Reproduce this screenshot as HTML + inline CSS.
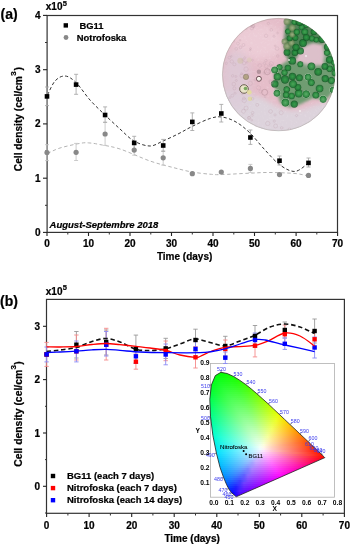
<!DOCTYPE html>
<html><head><meta charset="utf-8"><style>html,body{margin:0;padding:0;background:#fff;width:350px;height:544px;overflow:hidden}svg{display:block;will-change:transform} text:not([fill]){stroke:#000;stroke-width:0.22px}</style></head>
<body><svg width="350" height="544" viewBox="0 0 350 544">
<rect x="47.1" y="15.5" width="290.4" height="216.9" fill="none" stroke="#333" stroke-width="1.2"/>
<line x1="43" y1="232.4" x2="47.1" y2="232.4" stroke="#222" stroke-width="1.1"/>
<text x="40.6" y="235.8" font-family="Liberation Sans" font-weight="bold" font-size="10" text-anchor="end">0</text>
<line x1="43" y1="178.2" x2="47.1" y2="178.2" stroke="#222" stroke-width="1.1"/>
<text x="40.6" y="181.6" font-family="Liberation Sans" font-weight="bold" font-size="10" text-anchor="end">1</text>
<line x1="43" y1="123.9" x2="47.1" y2="123.9" stroke="#222" stroke-width="1.1"/>
<text x="40.6" y="127.3" font-family="Liberation Sans" font-weight="bold" font-size="10" text-anchor="end">2</text>
<line x1="43" y1="69.7" x2="47.1" y2="69.7" stroke="#222" stroke-width="1.1"/>
<text x="40.6" y="73.1" font-family="Liberation Sans" font-weight="bold" font-size="10" text-anchor="end">3</text>
<line x1="43" y1="15.4" x2="47.1" y2="15.4" stroke="#222" stroke-width="1.1"/>
<text x="40.6" y="18.8" font-family="Liberation Sans" font-weight="bold" font-size="10" text-anchor="end">4</text>
<line x1="45" y1="205.3" x2="47.1" y2="205.3" stroke="#333" stroke-width="1"/>
<line x1="45" y1="151.0" x2="47.1" y2="151.0" stroke="#333" stroke-width="1"/>
<line x1="45" y1="96.8" x2="47.1" y2="96.8" stroke="#333" stroke-width="1"/>
<line x1="45" y1="42.5" x2="47.1" y2="42.5" stroke="#333" stroke-width="1"/>
<line x1="47.0" y1="232.4" x2="47.0" y2="236" stroke="#222" stroke-width="1.1"/>
<text x="47.0" y="247.4" font-family="Liberation Sans" font-weight="bold" font-size="10" text-anchor="middle">0</text>
<line x1="88.5" y1="232.4" x2="88.5" y2="236" stroke="#222" stroke-width="1.1"/>
<text x="88.5" y="247.4" font-family="Liberation Sans" font-weight="bold" font-size="10" text-anchor="middle">10</text>
<line x1="130.0" y1="232.4" x2="130.0" y2="236" stroke="#222" stroke-width="1.1"/>
<text x="130.0" y="247.4" font-family="Liberation Sans" font-weight="bold" font-size="10" text-anchor="middle">20</text>
<line x1="171.5" y1="232.4" x2="171.5" y2="236" stroke="#222" stroke-width="1.1"/>
<text x="171.5" y="247.4" font-family="Liberation Sans" font-weight="bold" font-size="10" text-anchor="middle">30</text>
<line x1="213.0" y1="232.4" x2="213.0" y2="236" stroke="#222" stroke-width="1.1"/>
<text x="213.0" y="247.4" font-family="Liberation Sans" font-weight="bold" font-size="10" text-anchor="middle">40</text>
<line x1="254.5" y1="232.4" x2="254.5" y2="236" stroke="#222" stroke-width="1.1"/>
<text x="254.5" y="247.4" font-family="Liberation Sans" font-weight="bold" font-size="10" text-anchor="middle">50</text>
<line x1="296.1" y1="232.4" x2="296.1" y2="236" stroke="#222" stroke-width="1.1"/>
<text x="296.1" y="247.4" font-family="Liberation Sans" font-weight="bold" font-size="10" text-anchor="middle">60</text>
<line x1="337.6" y1="232.4" x2="337.6" y2="236" stroke="#222" stroke-width="1.1"/>
<text x="337.6" y="247.4" font-family="Liberation Sans" font-weight="bold" font-size="10" text-anchor="middle">70</text>
<line x1="67.8" y1="232.4" x2="67.8" y2="234.5" stroke="#333" stroke-width="1"/>
<line x1="109.3" y1="232.4" x2="109.3" y2="234.5" stroke="#333" stroke-width="1"/>
<line x1="150.8" y1="232.4" x2="150.8" y2="234.5" stroke="#333" stroke-width="1"/>
<line x1="192.3" y1="232.4" x2="192.3" y2="234.5" stroke="#333" stroke-width="1"/>
<line x1="233.8" y1="232.4" x2="233.8" y2="234.5" stroke="#333" stroke-width="1"/>
<line x1="275.3" y1="232.4" x2="275.3" y2="234.5" stroke="#333" stroke-width="1"/>
<line x1="316.8" y1="232.4" x2="316.8" y2="234.5" stroke="#333" stroke-width="1"/>
<text x="0.5" y="19" font-family="Liberation Sans" font-weight="bold" font-size="14">(a)</text>
<text x="45.8" y="10.2" font-family="Liberation Sans" font-weight="bold" font-size="10">x10<tspan font-size="7.5" dx="0.3" dy="-4.6">5</tspan></text>
<text x="156.9" y="259.9" font-family="Liberation Sans" font-weight="bold" font-size="10">Time (days)</text>
<text transform="translate(22.3,171.2) rotate(-90)" font-family="Liberation Sans" font-weight="bold" font-size="10.2">Cell density (cel/cm<tspan font-size="8" dx="0.3" dy="-6.3">3</tspan><tspan dx="0.8" dy="6.3">)</tspan></text>
<text x="49.6" y="227.8" font-family="Liberation Sans" font-weight="bold" font-style="italic" font-size="9.5">August-Septembre 2018</text>
<rect x="63.6" y="23.2" width="4.4" height="4.4" fill="#000"/>
<text x="79.5" y="29.1" font-family="Liberation Sans" font-weight="bold" font-size="9.4">BG11</text>
<circle cx="66" cy="37.5" r="2.4" fill="#888"/>
<text x="76.8" y="40.8" font-family="Liberation Sans" font-weight="bold" font-size="9.4">Notrofoska</text>
<defs><clipPath id="mc"><circle cx="278.7" cy="74.6" r="56.5"/></clipPath>
<filter id="bl4" x="-30%" y="-30%" width="160%" height="160%"><feGaussianBlur stdDeviation="4"/></filter>
<filter id="bl3" x="-30%" y="-30%" width="160%" height="160%"><feGaussianBlur stdDeviation="2.5"/></filter>
<filter id="bl2" x="-30%" y="-30%" width="160%" height="160%"><feGaussianBlur stdDeviation="1.4"/></filter>
<filter id="bl05" x="-50%" y="-50%" width="200%" height="200%"><feGaussianBlur stdDeviation="0.55"/></filter>
<radialGradient id="cg"><stop offset="0" stop-color="#45a855"/><stop offset="0.6" stop-color="#23893a"/><stop offset="0.85" stop-color="#1a642b"/><stop offset="1" stop-color="#2a6034" stop-opacity="0.5"/></radialGradient>
<radialGradient id="cd"><stop offset="0" stop-color="#2d9c42"/><stop offset="0.7" stop-color="#1c7a33"/><stop offset="1" stop-color="#145222"/></radialGradient>
<radialGradient id="cr"><stop offset="0" stop-color="#5aae68"/><stop offset="0.55" stop-color="#2f9444"/><stop offset="0.82" stop-color="#1f6e33"/><stop offset="1" stop-color="#b0ccae"/></radialGradient>
<radialGradient id="co"><stop offset="0" stop-color="#a9b58a"/><stop offset="0.6" stop-color="#7f9866"/><stop offset="1" stop-color="#5d7a4c" stop-opacity="0.7"/></radialGradient>
<filter id="tex" x="0" y="0" width="100%" height="100%"><feTurbulence type="fractalNoise" baseFrequency="0.45" numOctaves="2" seed="5"/><feColorMatrix type="matrix" values="0 0 0 0 1  0 0 0 0 0.95  0 0 0 0 0.97  1.2 0 0 0 -0.62"/></filter>
</defs>
<g clip-path="url(#mc)">
<rect x="222.2" y="18.1" width="113.0" height="113.0" fill="#e5bdc9"/>
<ellipse cx="258" cy="42" rx="26" ry="18" fill="#ecccd6" filter="url(#bl4)"/>
<path d="M212,88 C230,92 250,92 266,100 C278,108 292,114 306,108 C318,103 330,100 342,104 L342,140 L212,140 Z" fill="#ddd3dc" filter="url(#bl3)"/>
<rect x="222.2" y="18.1" width="113.0" height="113.0" filter="url(#tex)" opacity="0.35"/>
<path d="M286.3,19.5 L305.7,17.6 L319.4,24.4 L326.1,36.9 L322.9,44.7 L312.6,43.6 L302.3,49.3 L296.6,58.4 L289.7,63.0 L285.1,53.9 L284.0,40.1 L285.1,28.7Z" fill="#4f8456" filter="url(#bl2)"/>
<path d="M322.9,44.7 L329.6,40.4 L335.1,53.9 L336.4,74.4 L326.3,74.4 L321.7,56.1Z" fill="#5f9a66" filter="url(#bl2)"/>
<path d="M273.7,69.9 L287.4,60.7 L305.7,62.7 L324.0,65.3 L336.4,69.9 L334.3,90.4 L326.3,99.6 L312.6,98.3 L298.9,105.1 L289.7,107.4 L280.6,102.9 L274.9,88.1Z" fill="#6f9c72" filter="url(#bl2)"/>
<ellipse cx="312" cy="55" rx="13.5" ry="10.5" fill="#dcc0ca" filter="url(#bl3)"/>
<circle cx="303.0" cy="43.0" r="3.9" fill="url(#cd)" opacity="0.85" filter="url(#bl05)"/>
<circle cx="288.0" cy="31.4" r="3.1" fill="url(#cg)" opacity="0.85" filter="url(#bl05)"/>
<circle cx="284.6" cy="41.6" r="3.1" fill="url(#co)" opacity="0.85" filter="url(#bl05)"/>
<circle cx="311.9" cy="38.4" r="3.3" fill="url(#cg)" opacity="0.85" filter="url(#bl05)"/>
<circle cx="313.8" cy="31.9" r="3.2" fill="url(#cd)" opacity="0.85" filter="url(#bl05)"/>
<circle cx="287.0" cy="52.4" r="3.4" fill="url(#cd)" opacity="0.85" filter="url(#bl05)"/>
<circle cx="322.3" cy="38.9" r="4.0" fill="url(#cd)" opacity="0.85" filter="url(#bl05)"/>
<circle cx="287.1" cy="46.2" r="3.8" fill="url(#co)" opacity="0.85" filter="url(#bl05)"/>
<circle cx="294.4" cy="22.2" r="3.1" fill="url(#cg)" opacity="0.85" filter="url(#bl05)"/>
<circle cx="291.5" cy="43.0" r="3.4" fill="url(#co)" opacity="0.85" filter="url(#bl05)"/>
<circle cx="301.7" cy="27.3" r="3.3" fill="url(#cg)" opacity="0.85" filter="url(#bl05)"/>
<circle cx="294.9" cy="52.7" r="3.3" fill="url(#cd)" opacity="0.85" filter="url(#bl05)"/>
<circle cx="287.1" cy="21.7" r="3.6" fill="url(#co)" opacity="0.85" filter="url(#bl05)"/>
<circle cx="292.3" cy="60.7" r="3.9" fill="url(#cd)" opacity="0.85" filter="url(#bl05)"/>
<circle cx="295.3" cy="37.8" r="3.1" fill="url(#cd)" opacity="0.85" filter="url(#bl05)"/>
<circle cx="300.4" cy="51.0" r="3.6" fill="url(#cd)" opacity="0.85" filter="url(#bl05)"/>
<circle cx="304.8" cy="31.9" r="3.8" fill="url(#cg)" opacity="0.85" filter="url(#bl05)"/>
<circle cx="289.7" cy="38.2" r="3.0" fill="url(#cd)" opacity="0.85" filter="url(#bl05)"/>
<circle cx="316.3" cy="39.7" r="3.0" fill="url(#cg)" opacity="0.85" filter="url(#bl05)"/>
<circle cx="292.2" cy="27.9" r="3.7" fill="url(#co)" opacity="0.85" filter="url(#bl05)"/>
<circle cx="306.3" cy="37.4" r="3.4" fill="url(#cd)" opacity="0.85" filter="url(#bl05)"/>
<circle cx="306.3" cy="24.9" r="3.2" fill="url(#cg)" opacity="0.85" filter="url(#bl05)"/>
<circle cx="292.2" cy="34.7" r="3.1" fill="url(#co)" opacity="0.85" filter="url(#bl05)"/>
<circle cx="296.0" cy="47.3" r="3.6" fill="url(#cd)" opacity="0.85" filter="url(#bl05)"/>
<circle cx="299.5" cy="22.0" r="3.9" fill="url(#cd)" opacity="0.85" filter="url(#bl05)"/>
<circle cx="296.8" cy="32.0" r="3.4" fill="url(#cg)" opacity="0.85" filter="url(#bl05)"/>
<circle cx="327.0" cy="52.8" r="3.3" fill="url(#cg)" opacity="0.85" filter="url(#bl05)"/>
<circle cx="327.4" cy="47.0" r="3.5" fill="url(#cd)" opacity="0.85" filter="url(#bl05)"/>
<circle cx="329.6" cy="68.8" r="3.5" fill="url(#cg)" opacity="0.85" filter="url(#bl05)"/>
<circle cx="329.7" cy="59.7" r="3.8" fill="url(#cd)" opacity="0.85" filter="url(#bl05)"/>
<circle cx="324.9" cy="66.4" r="3.4" fill="url(#cd)" opacity="0.85" filter="url(#bl05)"/>
<circle cx="334.8" cy="73.0" r="3.5" fill="url(#cg)" opacity="0.85" filter="url(#bl05)"/>
<circle cx="335.6" cy="67.6" r="3.3" fill="url(#cg)" opacity="0.85" filter="url(#bl05)"/>
<circle cx="333.9" cy="62.6" r="3.0" fill="url(#cg)" opacity="0.85" filter="url(#bl05)"/>
<circle cx="318.2" cy="71.8" r="3.9" fill="url(#cd)" opacity="0.85" filter="url(#bl05)"/>
<circle cx="286.7" cy="89.5" r="3.5" fill="url(#cg)" opacity="0.85" filter="url(#bl05)"/>
<circle cx="292.4" cy="76.5" r="3.7" fill="url(#cd)" opacity="0.85" filter="url(#bl05)"/>
<circle cx="286.2" cy="94.9" r="3.6" fill="url(#cg)" opacity="0.85" filter="url(#bl05)"/>
<circle cx="279.5" cy="67.3" r="3.3" fill="url(#cg)" opacity="0.85" filter="url(#bl05)"/>
<circle cx="285.0" cy="79.5" r="4.2" fill="url(#cd)" opacity="0.85" filter="url(#bl05)"/>
<circle cx="287.9" cy="68.0" r="3.3" fill="url(#cd)" opacity="0.85" filter="url(#bl05)"/>
<circle cx="331.4" cy="80.6" r="3.8" fill="url(#cg)" opacity="0.85" filter="url(#bl05)"/>
<circle cx="325.2" cy="78.7" r="3.6" fill="url(#cd)" opacity="0.85" filter="url(#bl05)"/>
<circle cx="298.8" cy="93.4" r="4.4" fill="url(#cg)" opacity="0.85" filter="url(#bl05)"/>
<circle cx="323.1" cy="99.2" r="3.9" fill="url(#cr)" opacity="0.85" filter="url(#bl05)"/>
<circle cx="308.1" cy="77.2" r="3.8" fill="url(#cr)" opacity="0.85" filter="url(#bl05)"/>
<circle cx="306.1" cy="94.1" r="4.2" fill="url(#cr)" opacity="0.85" filter="url(#bl05)"/>
<circle cx="332.9" cy="90.0" r="3.4" fill="url(#cr)" opacity="0.85" filter="url(#bl05)"/>
<circle cx="294.3" cy="104.1" r="3.6" fill="url(#cd)" opacity="0.85" filter="url(#bl05)"/>
<circle cx="311.4" cy="66.4" r="4.2" fill="url(#cg)" opacity="0.85" filter="url(#bl05)"/>
<circle cx="315.8" cy="95.1" r="3.7" fill="url(#cg)" opacity="0.85" filter="url(#bl05)"/>
<circle cx="274.7" cy="70.0" r="3.8" fill="url(#cr)" opacity="0.85" filter="url(#bl05)"/>
<circle cx="297.9" cy="87.3" r="3.4" fill="url(#cd)" opacity="0.85" filter="url(#bl05)"/>
<circle cx="311.3" cy="82.6" r="3.7" fill="url(#cg)" opacity="0.85" filter="url(#bl05)"/>
<circle cx="319.6" cy="88.6" r="4.1" fill="url(#cg)" opacity="0.85" filter="url(#bl05)"/>
<circle cx="277.0" cy="93.2" r="3.8" fill="url(#cr)" opacity="0.85" filter="url(#bl05)"/>
<circle cx="293.0" cy="84.0" r="4.3" fill="url(#cg)" opacity="0.85" filter="url(#bl05)"/>
<circle cx="291.6" cy="96.0" r="3.5" fill="url(#cg)" opacity="0.85" filter="url(#bl05)"/>
<circle cx="285.4" cy="102.6" r="4.4" fill="url(#cr)" opacity="0.85" filter="url(#bl05)"/>
<circle cx="274.8" cy="83.9" r="3.7" fill="url(#cd)" opacity="0.85" filter="url(#bl05)"/>
<circle cx="284.5" cy="72.6" r="3.4" fill="url(#cg)" opacity="0.85" filter="url(#bl05)"/>
<circle cx="299.4" cy="77.7" r="3.5" fill="url(#cd)" opacity="0.85" filter="url(#bl05)"/>
<circle cx="300.3" cy="64.3" r="3.2" fill="url(#cg)" opacity="0.85" filter="url(#bl05)"/>
<circle cx="277.4" cy="76.7" r="4.0" fill="url(#cg)" opacity="0.85" filter="url(#bl05)"/>
<circle cx="300" cy="111" r="1.1" fill="#f4f0f0" opacity="0.8" filter="url(#bl05)"/>
<circle cx="289" cy="60" r="1.1" fill="#f4f0f0" opacity="0.8" filter="url(#bl05)"/>
<circle cx="306" cy="56" r="1.1" fill="#f4f0f0" opacity="0.8" filter="url(#bl05)"/>
<ellipse cx="236" cy="80" rx="14" ry="30" fill="#dccbd8" opacity="0.8" filter="url(#bl4)"/>
<circle cx="246" cy="76.9" r="2.7" fill="#b2a383" stroke="#8a7a68" stroke-width="0.6" filter="url(#bl05)"/>
<circle cx="258.9" cy="78.8" r="2.5" fill="#f6f2ea" stroke="#6a4a52" stroke-width="1" filter="url(#bl05)"/>
<circle cx="258.9" cy="71.7" r="2.2" fill="#b4949e" filter="url(#bl05)"/>
<circle cx="244" cy="89" r="4.3" fill="#e8e4c8" stroke="#6a6050" stroke-width="1" filter="url(#bl05)"/>
<circle cx="245.5" cy="88.5" r="1.8" fill="#7aa860" filter="url(#bl05)"/>
<circle cx="249.3" cy="92.3" r="2.4" fill="#e4dca0" filter="url(#bl05)"/>
<circle cx="250" cy="98.7" r="2.3" fill="#e0d8a8" filter="url(#bl05)"/>
<circle cx="240.3" cy="60.8" r="3" fill="#d4c4b0" opacity="0.7" filter="url(#bl05)"/>
<circle cx="249.3" cy="60" r="2.5" fill="#dccab8" opacity="0.6" filter="url(#bl05)"/>
<circle cx="267.3" cy="71.7" r="3" fill="none" stroke="#b8949e" stroke-width="0.6"/>
<circle cx="264.7" cy="92.3" r="3" fill="none" stroke="#b8949e" stroke-width="0.6"/>
<circle cx="252.6" cy="112.7" r="1.3" fill="none" stroke="#c2a2ae" stroke-width="0.45" opacity="0.55"/>
<circle cx="282.9" cy="43.7" r="1.3" fill="none" stroke="#c2a2ae" stroke-width="0.45" opacity="0.55"/>
<circle cx="236.3" cy="80.5" r="1.0" fill="none" stroke="#c2a2ae" stroke-width="0.45" opacity="0.55"/>
<circle cx="237.9" cy="43.6" r="1.5" fill="none" stroke="#c2a2ae" stroke-width="0.45" opacity="0.55"/>
<circle cx="246.1" cy="69.2" r="2.2" fill="none" stroke="#c2a2ae" stroke-width="0.45" opacity="0.55"/>
<circle cx="275.0" cy="114.9" r="1.1" fill="none" stroke="#c2a2ae" stroke-width="0.45" opacity="0.55"/>
<circle cx="251.9" cy="28.0" r="1.8" fill="none" stroke="#c2a2ae" stroke-width="0.45" opacity="0.55"/>
<circle cx="250.3" cy="50.2" r="0.8" fill="none" stroke="#c2a2ae" stroke-width="0.45" opacity="0.55"/>
<circle cx="236.2" cy="48.9" r="1.4" fill="none" stroke="#c2a2ae" stroke-width="0.45" opacity="0.55"/>
<circle cx="243.0" cy="59.7" r="1.0" fill="none" stroke="#c2a2ae" stroke-width="0.45" opacity="0.55"/>
<circle cx="247.1" cy="62.3" r="0.9" fill="none" stroke="#c2a2ae" stroke-width="0.45" opacity="0.55"/>
<circle cx="226.3" cy="63.3" r="1.1" fill="none" stroke="#c2a2ae" stroke-width="0.45" opacity="0.55"/>
<circle cx="268.4" cy="23.5" r="1.2" fill="none" stroke="#c2a2ae" stroke-width="0.45" opacity="0.55"/>
<circle cx="255.1" cy="79.8" r="1.0" fill="none" stroke="#c2a2ae" stroke-width="0.45" opacity="0.55"/>
<circle cx="277.1" cy="48.6" r="1.8" fill="none" stroke="#c2a2ae" stroke-width="0.45" opacity="0.55"/>
<circle cx="274.0" cy="36.2" r="1.1" fill="none" stroke="#c2a2ae" stroke-width="0.45" opacity="0.55"/>
<circle cx="243.9" cy="98.4" r="1.4" fill="none" stroke="#c2a2ae" stroke-width="0.45" opacity="0.55"/>
<circle cx="252.1" cy="115.3" r="1.1" fill="none" stroke="#c2a2ae" stroke-width="0.45" opacity="0.55"/>
<circle cx="244.8" cy="57.9" r="1.1" fill="none" stroke="#c2a2ae" stroke-width="0.45" opacity="0.55"/>
<circle cx="271.2" cy="82.3" r="1.9" fill="none" stroke="#c2a2ae" stroke-width="0.45" opacity="0.55"/>
<circle cx="274.3" cy="121.1" r="1.1" fill="none" stroke="#c2a2ae" stroke-width="0.45" opacity="0.55"/>
<circle cx="296.5" cy="115.5" r="1.1" fill="none" stroke="#c2a2ae" stroke-width="0.45" opacity="0.55"/>
<circle cx="271.3" cy="29.9" r="1.4" fill="none" stroke="#c2a2ae" stroke-width="0.45" opacity="0.55"/>
<circle cx="252.6" cy="26.6" r="1.3" fill="none" stroke="#c2a2ae" stroke-width="0.45" opacity="0.55"/>
<circle cx="247.6" cy="74.7" r="1.2" fill="none" stroke="#c2a2ae" stroke-width="0.45" opacity="0.55"/>
<circle cx="234.4" cy="64.3" r="1.5" fill="none" stroke="#c2a2ae" stroke-width="0.45" opacity="0.55"/>
<circle cx="235.0" cy="93.2" r="1.1" fill="none" stroke="#c2a2ae" stroke-width="0.45" opacity="0.55"/>
<circle cx="229.3" cy="57.6" r="1.4" fill="none" stroke="#c2a2ae" stroke-width="0.45" opacity="0.55"/>
<circle cx="233.8" cy="84.1" r="1.8" fill="none" stroke="#c2a2ae" stroke-width="0.45" opacity="0.55"/>
<circle cx="265.1" cy="97.0" r="0.8" fill="none" stroke="#c2a2ae" stroke-width="0.45" opacity="0.55"/>
<circle cx="252.5" cy="60.1" r="0.9" fill="none" stroke="#c2a2ae" stroke-width="0.45" opacity="0.55"/>
<circle cx="253.5" cy="26.0" r="1.5" fill="none" stroke="#c2a2ae" stroke-width="0.45" opacity="0.55"/>
<circle cx="267.7" cy="71.6" r="1.3" fill="none" stroke="#c2a2ae" stroke-width="0.45" opacity="0.55"/>
<circle cx="249.1" cy="118.1" r="1.6" fill="none" stroke="#c2a2ae" stroke-width="0.45" opacity="0.55"/>
<circle cx="242.4" cy="93.5" r="1.1" fill="none" stroke="#c2a2ae" stroke-width="0.45" opacity="0.55"/>
<circle cx="258.6" cy="87.7" r="2.1" fill="none" stroke="#c2a2ae" stroke-width="0.45" opacity="0.55"/>
<circle cx="250.3" cy="83.4" r="2.1" fill="none" stroke="#c2a2ae" stroke-width="0.45" opacity="0.55"/>
<circle cx="270.4" cy="65.2" r="1.4" fill="none" stroke="#c2a2ae" stroke-width="0.45" opacity="0.55"/>
<circle cx="243.5" cy="111.3" r="2.0" fill="none" stroke="#c2a2ae" stroke-width="0.45" opacity="0.55"/>
<circle cx="251.8" cy="120.1" r="0.9" fill="none" stroke="#c2a2ae" stroke-width="0.45" opacity="0.55"/>
<circle cx="232.6" cy="75.8" r="1.2" fill="none" stroke="#c2a2ae" stroke-width="0.45" opacity="0.55"/>
<circle cx="233.7" cy="41.2" r="1.1" fill="none" stroke="#c2a2ae" stroke-width="0.45" opacity="0.55"/>
<circle cx="275.1" cy="45.8" r="0.8" fill="none" stroke="#c2a2ae" stroke-width="0.45" opacity="0.55"/>
<circle cx="264.4" cy="63.3" r="1.1" fill="none" stroke="#c2a2ae" stroke-width="0.45" opacity="0.55"/>
<circle cx="260.5" cy="91.5" r="1.6" fill="none" stroke="#c2a2ae" stroke-width="0.45" opacity="0.55"/>
<circle cx="270.7" cy="81.7" r="2.0" fill="none" stroke="#c2a2ae" stroke-width="0.45" opacity="0.55"/>
<circle cx="249.0" cy="117.5" r="1.2" fill="none" stroke="#c2a2ae" stroke-width="0.45" opacity="0.55"/>
<circle cx="275.6" cy="126.0" r="2.0" fill="none" stroke="#c2a2ae" stroke-width="0.45" opacity="0.55"/>
<circle cx="234.4" cy="88.4" r="1.5" fill="none" stroke="#c2a2ae" stroke-width="0.45" opacity="0.55"/>
<circle cx="266.0" cy="60.6" r="1.2" fill="none" stroke="#c2a2ae" stroke-width="0.45" opacity="0.55"/>
<circle cx="240.5" cy="47.4" r="1.3" fill="none" stroke="#c2a2ae" stroke-width="0.45" opacity="0.55"/>
<circle cx="235.9" cy="76.5" r="1.0" fill="none" stroke="#c2a2ae" stroke-width="0.45" opacity="0.55"/>
<circle cx="230.0" cy="97.5" r="1.0" fill="none" stroke="#c2a2ae" stroke-width="0.45" opacity="0.55"/>
<circle cx="257.2" cy="104.9" r="1.5" fill="none" stroke="#c2a2ae" stroke-width="0.45" opacity="0.55"/>
<circle cx="241.8" cy="75.8" r="1.9" fill="none" stroke="#c2a2ae" stroke-width="0.45" opacity="0.55"/>
<circle cx="252.6" cy="98.8" r="1.2" fill="none" stroke="#c2a2ae" stroke-width="0.45" opacity="0.55"/>
<circle cx="277.8" cy="56.0" r="1.3" fill="none" stroke="#c2a2ae" stroke-width="0.45" opacity="0.55"/>
<circle cx="281.2" cy="112.7" r="2.0" fill="none" stroke="#c2a2ae" stroke-width="0.45" opacity="0.55"/>
<circle cx="266.3" cy="66.3" r="1.8" fill="none" stroke="#c2a2ae" stroke-width="0.45" opacity="0.55"/>
<circle cx="270.6" cy="111.4" r="1.9" fill="none" stroke="#c2a2ae" stroke-width="0.45" opacity="0.55"/>
<circle cx="231.8" cy="61.5" r="1.7" fill="none" stroke="#c2a2ae" stroke-width="0.45" opacity="0.55"/>
<circle cx="240.0" cy="40.3" r="0.8" fill="none" stroke="#c2a2ae" stroke-width="0.45" opacity="0.55"/>
<circle cx="267.7" cy="123.5" r="2.2" fill="none" stroke="#c2a2ae" stroke-width="0.45" opacity="0.55"/>
<circle cx="232.4" cy="95.6" r="1.4" fill="none" stroke="#c2a2ae" stroke-width="0.45" opacity="0.55"/>
<circle cx="271.3" cy="63.6" r="2.1" fill="none" stroke="#c2a2ae" stroke-width="0.45" opacity="0.55"/>
<circle cx="277.6" cy="33.0" r="0.9" fill="none" stroke="#c2a2ae" stroke-width="0.45" opacity="0.55"/>
<circle cx="244.3" cy="100.4" r="2.2" fill="none" stroke="#c2a2ae" stroke-width="0.45" opacity="0.55"/>
<circle cx="231.4" cy="56.3" r="0.8" fill="none" stroke="#c2a2ae" stroke-width="0.45" opacity="0.55"/>
<circle cx="264.3" cy="73.1" r="1.3" fill="none" stroke="#c2a2ae" stroke-width="0.45" opacity="0.55"/>
<circle cx="246.1" cy="108.1" r="2.0" fill="none" stroke="#c2a2ae" stroke-width="0.45" opacity="0.55"/>
<circle cx="244.1" cy="63.1" r="1.7" fill="none" stroke="#c2a2ae" stroke-width="0.45" opacity="0.55"/>
<circle cx="281.7" cy="127.9" r="1.3" fill="none" stroke="#c2a2ae" stroke-width="0.45" opacity="0.55"/>
<circle cx="284.4" cy="36.2" r="1.0" fill="none" stroke="#c2a2ae" stroke-width="0.45" opacity="0.55"/>
<circle cx="241.6" cy="73.7" r="1.0" fill="none" stroke="#c2a2ae" stroke-width="0.45" opacity="0.55"/>
<circle cx="266.1" cy="35.8" r="1.7" fill="none" stroke="#c2a2ae" stroke-width="0.45" opacity="0.55"/>
<circle cx="243.4" cy="45.0" r="1.5" fill="none" stroke="#c2a2ae" stroke-width="0.45" opacity="0.55"/>
<circle cx="250.5" cy="48.6" r="0.9" fill="none" stroke="#c2a2ae" stroke-width="0.45" opacity="0.55"/>
<circle cx="246.1" cy="28.6" r="1.1" fill="none" stroke="#c2a2ae" stroke-width="0.45" opacity="0.55"/>
<circle cx="259.8" cy="65.6" r="1.9" fill="none" stroke="#c2a2ae" stroke-width="0.45" opacity="0.55"/>
<circle cx="252.9" cy="26.3" r="1.6" fill="none" stroke="#c2a2ae" stroke-width="0.45" opacity="0.55"/>
<circle cx="289.4" cy="129.4" r="1.4" fill="none" stroke="#c2a2ae" stroke-width="0.45" opacity="0.55"/>
</g>
<circle cx="278.7" cy="74.6" r="56.3" fill="none" stroke="#3a5a3a" stroke-width="0.5" opacity="0.35"/>
<path d="M47.5,95.0 C48.8,92.7 52.1,84.2 55.0,81.0 C57.9,77.8 61.5,75.8 65.0,76.0 C68.5,76.2 71.8,78.5 76.0,82.5 C80.2,86.5 85.2,94.6 90.0,100.0 C94.8,105.4 100.0,110.2 105.0,115.0 C110.0,119.8 115.2,124.7 120.0,129.0 C124.8,133.3 129.0,138.2 134.0,141.0 C139.0,143.8 145.2,146.0 150.0,146.0 C154.8,146.0 158.3,143.0 163.0,141.0 C167.7,139.0 173.2,136.4 178.0,134.0 C182.8,131.6 186.7,129.1 192.0,126.5 C197.3,123.9 205.0,120.1 210.0,118.5 C215.0,116.9 217.7,116.4 222.0,117.0 C226.3,117.6 231.3,119.3 236.0,122.0 C240.7,124.7 245.2,128.3 250.0,133.0 C254.8,137.7 260.0,144.7 265.0,150.0 C270.0,155.3 275.0,161.4 280.0,165.0 C285.0,168.6 290.2,171.7 295.0,171.4 C299.8,171.1 306.2,164.4 308.5,163.0" fill="none" stroke="#333" stroke-width="1" stroke-dasharray="3.2 2.3"/>
<path d="M47.5,153.5 C49.6,152.6 54.4,149.7 60.0,148.0 C65.6,146.3 76.0,144.0 81.0,143.2 C86.0,142.4 86.8,142.8 90.0,143.0 C93.2,143.2 95.0,143.6 100.0,144.6 C105.0,145.6 111.7,146.3 120.0,149.0 C128.3,151.7 140.8,157.8 150.0,161.0 C159.2,164.2 168.0,166.2 175.0,168.0 C182.0,169.8 186.2,171.0 192.0,172.0 C197.8,173.0 205.2,173.8 210.0,174.2 C214.8,174.6 214.3,174.8 221.0,174.6 C227.7,174.4 241.8,173.5 250.0,173.2 C258.2,172.8 262.5,172.4 270.0,172.5 C277.5,172.6 288.6,172.9 295.0,173.5 C301.4,174.1 306.2,175.6 308.5,176.0" fill="none" stroke="#b4b4b4" stroke-width="1" stroke-dasharray="3.5 2.5"/>
<path d="M47.0,144.7V160.6M45.0,144.7h4M45.0,160.6h4" stroke="#c6c6c6" stroke-width="0.9" fill="none"/>
<path d="M76.1,143.4V160.5M74.1,143.4h4M74.1,160.5h4" stroke="#c6c6c6" stroke-width="0.9" fill="none"/>
<path d="M105.1,122.3V145.4M103.1,122.3h4M103.1,145.4h4" stroke="#c6c6c6" stroke-width="0.9" fill="none"/>
<path d="M134.2,145.0V155.2M132.2,145.0h4M132.2,155.2h4" stroke="#c6c6c6" stroke-width="0.9" fill="none"/>
<path d="M163.2,150.9V165.1M161.2,150.9h4M161.2,165.1h4" stroke="#c6c6c6" stroke-width="0.9" fill="none"/>
<path d="M250.4,164.4V172.4M248.4,164.4h4M248.4,172.4h4" stroke="#c6c6c6" stroke-width="0.9" fill="none"/>
<path d="M47.0,87.0V105.6M45.0,87.0h4M45.0,105.6h4" stroke="#aaa" stroke-width="0.9" fill="none"/>
<path d="M76.1,74.3V94.3M74.1,74.3h4M74.1,94.3h4" stroke="#aaa" stroke-width="0.9" fill="none"/>
<path d="M105.1,106.9V122.3M103.1,106.9h4M103.1,122.3h4" stroke="#aaa" stroke-width="0.9" fill="none"/>
<path d="M134.2,136.3V149.5M132.2,136.3h4M132.2,149.5h4" stroke="#aaa" stroke-width="0.9" fill="none"/>
<path d="M163.2,139.4V151.4M161.2,139.4h4M161.2,151.4h4" stroke="#aaa" stroke-width="0.9" fill="none"/>
<path d="M192.3,112.9V130.5M190.3,112.9h4M190.3,130.5h4" stroke="#aaa" stroke-width="0.9" fill="none"/>
<path d="M221.3,104.4V122.0M219.3,104.4h4M219.3,122.0h4" stroke="#aaa" stroke-width="0.9" fill="none"/>
<path d="M250.4,130.0V144.4M248.4,130.0h4M248.4,144.4h4" stroke="#aaa" stroke-width="0.9" fill="none"/>
<path d="M279.5,156.0V165.0M277.5,156.0h4M277.5,165.0h4" stroke="#aaa" stroke-width="0.9" fill="none"/>
<path d="M308.5,158.0V167.0M306.5,158.0h4M306.5,167.0h4" stroke="#aaa" stroke-width="0.9" fill="none"/>
<circle cx="47.0" cy="152.5" r="2.6" fill="#888"/>
<circle cx="76.1" cy="152.3" r="2.6" fill="#888"/>
<circle cx="105.1" cy="134.0" r="2.6" fill="#888"/>
<circle cx="134.2" cy="150.1" r="2.6" fill="#888"/>
<circle cx="163.2" cy="157.8" r="2.6" fill="#888"/>
<circle cx="192.3" cy="173.7" r="2.6" fill="#888"/>
<circle cx="221.3" cy="172.0" r="2.6" fill="#888"/>
<circle cx="250.4" cy="168.4" r="2.6" fill="#888"/>
<circle cx="279.5" cy="174.6" r="2.6" fill="#888"/>
<circle cx="308.5" cy="175.4" r="2.6" fill="#888"/>
<rect x="44.7" y="94.1" width="4.6" height="4.6" fill="#000"/>
<rect x="73.8" y="82.3" width="4.6" height="4.6" fill="#000"/>
<rect x="102.8" y="112.7" width="4.6" height="4.6" fill="#000"/>
<rect x="131.9" y="140.6" width="4.6" height="4.6" fill="#000"/>
<rect x="160.9" y="143.2" width="4.6" height="4.6" fill="#000"/>
<rect x="190.0" y="119.6" width="4.6" height="4.6" fill="#000"/>
<rect x="219.0" y="111.2" width="4.6" height="4.6" fill="#000"/>
<rect x="248.1" y="135.2" width="4.6" height="4.6" fill="#000"/>
<rect x="277.2" y="158.4" width="4.6" height="4.6" fill="#000"/>
<rect x="306.2" y="160.6" width="4.6" height="4.6" fill="#000"/>
<rect x="46.5" y="299.4" width="297.9" height="213.9" fill="none" stroke="#333" stroke-width="1.2"/>
<line x1="43" y1="486.3" x2="46.5" y2="486.3" stroke="#222" stroke-width="1.1"/>
<text x="40" y="490.0" font-family="Liberation Sans" font-weight="bold" font-size="10" text-anchor="end">0</text>
<line x1="43" y1="433.0" x2="46.5" y2="433.0" stroke="#222" stroke-width="1.1"/>
<text x="40" y="436.7" font-family="Liberation Sans" font-weight="bold" font-size="10" text-anchor="end">1</text>
<line x1="43" y1="379.6" x2="46.5" y2="379.6" stroke="#222" stroke-width="1.1"/>
<text x="40" y="383.3" font-family="Liberation Sans" font-weight="bold" font-size="10" text-anchor="end">2</text>
<line x1="43" y1="326.3" x2="46.5" y2="326.3" stroke="#222" stroke-width="1.1"/>
<text x="40" y="330.0" font-family="Liberation Sans" font-weight="bold" font-size="10" text-anchor="end">3</text>
<line x1="45" y1="513.0" x2="46.5" y2="513.0" stroke="#333" stroke-width="1"/>
<line x1="45" y1="459.6" x2="46.5" y2="459.6" stroke="#333" stroke-width="1"/>
<line x1="45" y1="406.3" x2="46.5" y2="406.3" stroke="#333" stroke-width="1"/>
<line x1="45" y1="353.0" x2="46.5" y2="353.0" stroke="#333" stroke-width="1"/>
<line x1="46.6" y1="513.3" x2="46.6" y2="517" stroke="#222" stroke-width="1.1"/>
<text x="46.6" y="528.5" font-family="Liberation Sans" font-weight="bold" font-size="10" text-anchor="middle">0</text>
<line x1="89.1" y1="513.3" x2="89.1" y2="517" stroke="#222" stroke-width="1.1"/>
<text x="89.1" y="528.5" font-family="Liberation Sans" font-weight="bold" font-size="10" text-anchor="middle">10</text>
<line x1="131.7" y1="513.3" x2="131.7" y2="517" stroke="#222" stroke-width="1.1"/>
<text x="131.7" y="528.5" font-family="Liberation Sans" font-weight="bold" font-size="10" text-anchor="middle">20</text>
<line x1="174.2" y1="513.3" x2="174.2" y2="517" stroke="#222" stroke-width="1.1"/>
<text x="174.2" y="528.5" font-family="Liberation Sans" font-weight="bold" font-size="10" text-anchor="middle">30</text>
<line x1="216.8" y1="513.3" x2="216.8" y2="517" stroke="#222" stroke-width="1.1"/>
<text x="216.8" y="528.5" font-family="Liberation Sans" font-weight="bold" font-size="10" text-anchor="middle">40</text>
<line x1="259.3" y1="513.3" x2="259.3" y2="517" stroke="#222" stroke-width="1.1"/>
<text x="259.3" y="528.5" font-family="Liberation Sans" font-weight="bold" font-size="10" text-anchor="middle">50</text>
<line x1="301.8" y1="513.3" x2="301.8" y2="517" stroke="#222" stroke-width="1.1"/>
<text x="301.8" y="528.5" font-family="Liberation Sans" font-weight="bold" font-size="10" text-anchor="middle">60</text>
<line x1="344.4" y1="513.3" x2="344.4" y2="517" stroke="#222" stroke-width="1.1"/>
<text x="344.4" y="528.5" font-family="Liberation Sans" font-weight="bold" font-size="10" text-anchor="middle">70</text>
<line x1="67.9" y1="513.3" x2="67.9" y2="515.5" stroke="#333" stroke-width="1"/>
<line x1="110.4" y1="513.3" x2="110.4" y2="515.5" stroke="#333" stroke-width="1"/>
<line x1="152.9" y1="513.3" x2="152.9" y2="515.5" stroke="#333" stroke-width="1"/>
<line x1="195.5" y1="513.3" x2="195.5" y2="515.5" stroke="#333" stroke-width="1"/>
<line x1="238.0" y1="513.3" x2="238.0" y2="515.5" stroke="#333" stroke-width="1"/>
<line x1="280.6" y1="513.3" x2="280.6" y2="515.5" stroke="#333" stroke-width="1"/>
<line x1="323.1" y1="513.3" x2="323.1" y2="515.5" stroke="#333" stroke-width="1"/>
<text x="0" y="306" font-family="Liberation Sans" font-weight="bold" font-size="14">(b)</text>
<text x="45.8" y="295" font-family="Liberation Sans" font-weight="bold" font-size="10">x10<tspan font-size="7.5" dx="0.3" dy="-4.6">5</tspan></text>
<text x="164.4" y="541.8" font-family="Liberation Sans" font-weight="bold" font-size="10">Time (days)</text>
<text transform="translate(22.3,466.8) rotate(-90)" font-family="Liberation Sans" font-weight="bold" font-size="10.4">Cell density (cel/cm<tspan font-size="8" dx="0.2" dy="-6.2">3</tspan><tspan dx="0.5" dy="6.2">)</tspan></text>
<rect x="210.4" y="363.4" width="124.0" height="133.8" fill="#fff" stroke="#b0b0b0" stroke-width="0.8"/>
<defs><clipPath id="loc"><polygon points="236.6,496.6 236.5,496.7 236.4,496.7 236.2,496.6 235.8,496.4 235.1,495.8 233.9,494.7 233.0,494.0 231.9,492.9 230.5,491.4 228.7,488.7 226.5,484.4 223.6,477.5 220.0,467.3 216.4,453.1 212.9,435.5 210.5,416.6 209.8,399.2 211.4,384.9 215.3,375.6 220.9,372.3 227.2,373.5 233.6,376.5 239.6,380.2 245.4,384.3 251.1,388.8 256.7,393.6 262.3,398.6 268.0,403.7 273.6,409.0 279.1,414.2 284.6,419.4 289.9,424.4 295.0,429.2 299.8,433.8 304.2,437.9 308.0,441.5 311.3,444.7 314.1,447.3 316.3,449.4 318.1,451.2 320.7,453.6 322.4,455.3 323.5,456.3 324.2,456.9 324.7,457.4 324.9,457.6"/></clipPath>
<linearGradient id="g0" gradientUnits="userSpaceOnUse" x1="208" x2="328" y1="0" y2="0"><stop offset="0.000" stop-color="#00ff13"/><stop offset="0.033" stop-color="#00ff0d"/><stop offset="0.067" stop-color="#00ff05"/><stop offset="0.100" stop-color="#01ff00"/><stop offset="0.133" stop-color="#08ff00"/><stop offset="0.167" stop-color="#0fff00"/><stop offset="0.200" stop-color="#19ff00"/><stop offset="0.233" stop-color="#28ff00"/><stop offset="0.267" stop-color="#37ff00"/><stop offset="0.300" stop-color="#48ff00"/><stop offset="0.333" stop-color="#59ff00"/><stop offset="0.367" stop-color="#6aff00"/><stop offset="0.400" stop-color="#79ff00"/><stop offset="0.433" stop-color="#88ff00"/><stop offset="0.467" stop-color="#95ff00"/><stop offset="0.500" stop-color="#a2ff00"/><stop offset="0.533" stop-color="#adff00"/><stop offset="0.567" stop-color="#b7ff00"/><stop offset="0.600" stop-color="#c1ff00"/><stop offset="0.633" stop-color="#caff00"/><stop offset="0.667" stop-color="#d2ff00"/><stop offset="0.700" stop-color="#daff00"/><stop offset="0.733" stop-color="#e1ff00"/><stop offset="0.767" stop-color="#e8ff00"/><stop offset="0.800" stop-color="#ecfb00"/><stop offset="0.833" stop-color="#eef500"/><stop offset="0.867" stop-color="#f0ef00"/><stop offset="0.900" stop-color="#f1ea00"/><stop offset="0.933" stop-color="#f3e500"/><stop offset="0.967" stop-color="#f5e000"/><stop offset="1.000" stop-color="#f6db00"/></linearGradient>
<linearGradient id="g1" gradientUnits="userSpaceOnUse" x1="208" x2="328" y1="0" y2="0"><stop offset="0.000" stop-color="#00ff14"/><stop offset="0.033" stop-color="#00ff0f"/><stop offset="0.067" stop-color="#00ff08"/><stop offset="0.100" stop-color="#00ff00"/><stop offset="0.133" stop-color="#06ff00"/><stop offset="0.167" stop-color="#0dff00"/><stop offset="0.200" stop-color="#16ff00"/><stop offset="0.233" stop-color="#25ff00"/><stop offset="0.267" stop-color="#35ff00"/><stop offset="0.300" stop-color="#46ff00"/><stop offset="0.333" stop-color="#58ff00"/><stop offset="0.367" stop-color="#69ff00"/><stop offset="0.400" stop-color="#78ff00"/><stop offset="0.433" stop-color="#88ff00"/><stop offset="0.467" stop-color="#95ff00"/><stop offset="0.500" stop-color="#a2ff00"/><stop offset="0.533" stop-color="#aeff00"/><stop offset="0.567" stop-color="#b8ff00"/><stop offset="0.600" stop-color="#c2ff00"/><stop offset="0.633" stop-color="#cbff00"/><stop offset="0.667" stop-color="#d3ff00"/><stop offset="0.700" stop-color="#dbff00"/><stop offset="0.733" stop-color="#e3ff00"/><stop offset="0.767" stop-color="#e9ff00"/><stop offset="0.800" stop-color="#ecf900"/><stop offset="0.833" stop-color="#eef300"/><stop offset="0.867" stop-color="#f0ed00"/><stop offset="0.900" stop-color="#f2e800"/><stop offset="0.933" stop-color="#f4e300"/><stop offset="0.967" stop-color="#f5de00"/><stop offset="1.000" stop-color="#f7d900"/></linearGradient>
<linearGradient id="g2" gradientUnits="userSpaceOnUse" x1="208" x2="328" y1="0" y2="0"><stop offset="0.000" stop-color="#00ff16"/><stop offset="0.033" stop-color="#00ff11"/><stop offset="0.067" stop-color="#00ff0a"/><stop offset="0.100" stop-color="#00ff02"/><stop offset="0.133" stop-color="#05ff00"/><stop offset="0.167" stop-color="#0cff00"/><stop offset="0.200" stop-color="#13ff00"/><stop offset="0.233" stop-color="#23ff00"/><stop offset="0.267" stop-color="#32ff00"/><stop offset="0.300" stop-color="#43ff00"/><stop offset="0.333" stop-color="#56ff00"/><stop offset="0.367" stop-color="#68ff00"/><stop offset="0.400" stop-color="#78ff00"/><stop offset="0.433" stop-color="#87ff00"/><stop offset="0.467" stop-color="#96ff00"/><stop offset="0.500" stop-color="#a3ff00"/><stop offset="0.533" stop-color="#aeff00"/><stop offset="0.567" stop-color="#b9ff00"/><stop offset="0.600" stop-color="#c3ff00"/><stop offset="0.633" stop-color="#ccff00"/><stop offset="0.667" stop-color="#d5ff00"/><stop offset="0.700" stop-color="#ddff00"/><stop offset="0.733" stop-color="#e4ff00"/><stop offset="0.767" stop-color="#ebfe00"/><stop offset="0.800" stop-color="#edf700"/><stop offset="0.833" stop-color="#eff100"/><stop offset="0.867" stop-color="#f1ec00"/><stop offset="0.900" stop-color="#f3e600"/><stop offset="0.933" stop-color="#f4e100"/><stop offset="0.967" stop-color="#f6dc00"/><stop offset="1.000" stop-color="#f7d800"/></linearGradient>
<linearGradient id="g3" gradientUnits="userSpaceOnUse" x1="208" x2="328" y1="0" y2="0"><stop offset="0.000" stop-color="#00ff18"/><stop offset="0.033" stop-color="#00ff13"/><stop offset="0.067" stop-color="#00ff0c"/><stop offset="0.100" stop-color="#04ff09"/><stop offset="0.133" stop-color="#09ff07"/><stop offset="0.167" stop-color="#0efe04"/><stop offset="0.200" stop-color="#12ff00"/><stop offset="0.233" stop-color="#20ff00"/><stop offset="0.267" stop-color="#30ff00"/><stop offset="0.300" stop-color="#41ff00"/><stop offset="0.333" stop-color="#54ff00"/><stop offset="0.367" stop-color="#66ff00"/><stop offset="0.400" stop-color="#77ff00"/><stop offset="0.433" stop-color="#87ff00"/><stop offset="0.467" stop-color="#96ff00"/><stop offset="0.500" stop-color="#a3ff00"/><stop offset="0.533" stop-color="#afff00"/><stop offset="0.567" stop-color="#baff00"/><stop offset="0.600" stop-color="#c4ff00"/><stop offset="0.633" stop-color="#ceff00"/><stop offset="0.667" stop-color="#d6ff00"/><stop offset="0.700" stop-color="#deff00"/><stop offset="0.733" stop-color="#e6ff00"/><stop offset="0.767" stop-color="#ebfc00"/><stop offset="0.800" stop-color="#edf600"/><stop offset="0.833" stop-color="#f0ef00"/><stop offset="0.867" stop-color="#f1ea00"/><stop offset="0.900" stop-color="#f3e400"/><stop offset="0.933" stop-color="#f5df00"/><stop offset="0.967" stop-color="#f7da00"/><stop offset="1.000" stop-color="#f8d500"/></linearGradient>
<linearGradient id="g4" gradientUnits="userSpaceOnUse" x1="208" x2="328" y1="0" y2="0"><stop offset="0.000" stop-color="#00ff1a"/><stop offset="0.033" stop-color="#00ff15"/><stop offset="0.067" stop-color="#03ff12"/><stop offset="0.100" stop-color="#09ff10"/><stop offset="0.133" stop-color="#0efe0d"/><stop offset="0.167" stop-color="#13ff0b"/><stop offset="0.200" stop-color="#15ff04"/><stop offset="0.233" stop-color="#1dff00"/><stop offset="0.267" stop-color="#2eff00"/><stop offset="0.300" stop-color="#3eff00"/><stop offset="0.333" stop-color="#53ff00"/><stop offset="0.367" stop-color="#65ff00"/><stop offset="0.400" stop-color="#76ff00"/><stop offset="0.433" stop-color="#87ff00"/><stop offset="0.467" stop-color="#96ff00"/><stop offset="0.500" stop-color="#a4ff00"/><stop offset="0.533" stop-color="#b0ff00"/><stop offset="0.567" stop-color="#bbff00"/><stop offset="0.600" stop-color="#c5ff00"/><stop offset="0.633" stop-color="#cfff00"/><stop offset="0.667" stop-color="#d8ff00"/><stop offset="0.700" stop-color="#e0ff00"/><stop offset="0.733" stop-color="#e7ff00"/><stop offset="0.767" stop-color="#ecfa00"/><stop offset="0.800" stop-color="#eef400"/><stop offset="0.833" stop-color="#f0ee00"/><stop offset="0.867" stop-color="#f2e800"/><stop offset="0.900" stop-color="#f4e200"/><stop offset="0.933" stop-color="#f6dd00"/><stop offset="0.967" stop-color="#f7d800"/><stop offset="1.000" stop-color="#f9d300"/></linearGradient>
<linearGradient id="g5" gradientUnits="userSpaceOnUse" x1="208" x2="328" y1="0" y2="0"><stop offset="0.000" stop-color="#00ff1c"/><stop offset="0.033" stop-color="#00ff17"/><stop offset="0.067" stop-color="#06ff17"/><stop offset="0.100" stop-color="#0eff17"/><stop offset="0.133" stop-color="#13ff14"/><stop offset="0.167" stop-color="#18ff12"/><stop offset="0.200" stop-color="#1aff0c"/><stop offset="0.233" stop-color="#1eff04"/><stop offset="0.267" stop-color="#2bff00"/><stop offset="0.300" stop-color="#3bff00"/><stop offset="0.333" stop-color="#51ff00"/><stop offset="0.367" stop-color="#64ff00"/><stop offset="0.400" stop-color="#76ff00"/><stop offset="0.433" stop-color="#87ff00"/><stop offset="0.467" stop-color="#96ff00"/><stop offset="0.500" stop-color="#a4ff00"/><stop offset="0.533" stop-color="#b1ff00"/><stop offset="0.567" stop-color="#bcfe00"/><stop offset="0.600" stop-color="#c7ff00"/><stop offset="0.633" stop-color="#d0ff00"/><stop offset="0.667" stop-color="#d9ff00"/><stop offset="0.700" stop-color="#e2ff00"/><stop offset="0.733" stop-color="#e9ff00"/><stop offset="0.767" stop-color="#ecf900"/><stop offset="0.800" stop-color="#eff200"/><stop offset="0.833" stop-color="#f1ec00"/><stop offset="0.867" stop-color="#f3e600"/><stop offset="0.900" stop-color="#f5e000"/><stop offset="0.933" stop-color="#f6db00"/><stop offset="0.967" stop-color="#f8d600"/><stop offset="1.000" stop-color="#fad100"/></linearGradient>
<linearGradient id="g6" gradientUnits="userSpaceOnUse" x1="208" x2="328" y1="0" y2="0"><stop offset="0.000" stop-color="#00ff1f"/><stop offset="0.033" stop-color="#00ff19"/><stop offset="0.067" stop-color="#08ff1b"/><stop offset="0.100" stop-color="#12ff1e"/><stop offset="0.133" stop-color="#18ff1b"/><stop offset="0.167" stop-color="#1dff18"/><stop offset="0.200" stop-color="#20ff14"/><stop offset="0.233" stop-color="#22ff0c"/><stop offset="0.267" stop-color="#2afe02"/><stop offset="0.300" stop-color="#39ff00"/><stop offset="0.333" stop-color="#4fff00"/><stop offset="0.367" stop-color="#63ff00"/><stop offset="0.400" stop-color="#75ff00"/><stop offset="0.433" stop-color="#87ff00"/><stop offset="0.467" stop-color="#96ff00"/><stop offset="0.500" stop-color="#a5ff00"/><stop offset="0.533" stop-color="#b2ff00"/><stop offset="0.567" stop-color="#bdff00"/><stop offset="0.600" stop-color="#c8ff00"/><stop offset="0.633" stop-color="#d2ff00"/><stop offset="0.667" stop-color="#dbff00"/><stop offset="0.700" stop-color="#e3ff00"/><stop offset="0.733" stop-color="#ebfe00"/><stop offset="0.767" stop-color="#edf700"/><stop offset="0.800" stop-color="#eff000"/><stop offset="0.833" stop-color="#f1ea00"/><stop offset="0.867" stop-color="#f3e400"/><stop offset="0.900" stop-color="#f5de00"/><stop offset="0.933" stop-color="#f7d900"/><stop offset="0.967" stop-color="#f9d400"/><stop offset="1.000" stop-color="#facf00"/></linearGradient>
<linearGradient id="g7" gradientUnits="userSpaceOnUse" x1="208" x2="328" y1="0" y2="0"><stop offset="0.000" stop-color="#00ff24"/><stop offset="0.033" stop-color="#00ff1b"/><stop offset="0.067" stop-color="#0bff1f"/><stop offset="0.100" stop-color="#17ff24"/><stop offset="0.133" stop-color="#1cff22"/><stop offset="0.167" stop-color="#21ff1f"/><stop offset="0.200" stop-color="#26ff1c"/><stop offset="0.233" stop-color="#27ff14"/><stop offset="0.267" stop-color="#2fff0a"/><stop offset="0.300" stop-color="#37ff00"/><stop offset="0.333" stop-color="#4cff00"/><stop offset="0.367" stop-color="#61ff00"/><stop offset="0.400" stop-color="#74ff00"/><stop offset="0.433" stop-color="#86ff00"/><stop offset="0.467" stop-color="#97ff00"/><stop offset="0.500" stop-color="#a5ff00"/><stop offset="0.533" stop-color="#b3ff00"/><stop offset="0.567" stop-color="#bfff00"/><stop offset="0.600" stop-color="#caff00"/><stop offset="0.633" stop-color="#d4ff00"/><stop offset="0.667" stop-color="#ddff00"/><stop offset="0.700" stop-color="#e5ff00"/><stop offset="0.733" stop-color="#ebfc00"/><stop offset="0.767" stop-color="#eef500"/><stop offset="0.800" stop-color="#f0ee00"/><stop offset="0.833" stop-color="#f2e700"/><stop offset="0.867" stop-color="#f4e200"/><stop offset="0.900" stop-color="#f6dc00"/><stop offset="0.933" stop-color="#f8d700"/><stop offset="0.967" stop-color="#f9d200"/><stop offset="1.000" stop-color="#fbcd00"/></linearGradient>
<linearGradient id="g8" gradientUnits="userSpaceOnUse" x1="208" x2="328" y1="0" y2="0"><stop offset="0.000" stop-color="#00ff2a"/><stop offset="0.033" stop-color="#01ff1f"/><stop offset="0.067" stop-color="#0dff24"/><stop offset="0.100" stop-color="#19ff29"/><stop offset="0.133" stop-color="#21ff29"/><stop offset="0.167" stop-color="#26fe26"/><stop offset="0.200" stop-color="#2bff23"/><stop offset="0.233" stop-color="#2cff1c"/><stop offset="0.267" stop-color="#33ff13"/><stop offset="0.300" stop-color="#3bff07"/><stop offset="0.333" stop-color="#4aff00"/><stop offset="0.367" stop-color="#60ff00"/><stop offset="0.400" stop-color="#73ff00"/><stop offset="0.433" stop-color="#86ff00"/><stop offset="0.467" stop-color="#97ff00"/><stop offset="0.500" stop-color="#a6ff00"/><stop offset="0.533" stop-color="#b4ff00"/><stop offset="0.567" stop-color="#c0ff00"/><stop offset="0.600" stop-color="#cbff00"/><stop offset="0.633" stop-color="#d5ff00"/><stop offset="0.667" stop-color="#deff00"/><stop offset="0.700" stop-color="#e7ff00"/><stop offset="0.733" stop-color="#ecfa00"/><stop offset="0.767" stop-color="#eef300"/><stop offset="0.800" stop-color="#f1ec00"/><stop offset="0.833" stop-color="#f3e500"/><stop offset="0.867" stop-color="#f5df00"/><stop offset="0.900" stop-color="#f7da00"/><stop offset="0.933" stop-color="#f9d400"/><stop offset="0.967" stop-color="#facf00"/><stop offset="1.000" stop-color="#fcca00"/></linearGradient>
<linearGradient id="g9" gradientUnits="userSpaceOnUse" x1="208" x2="328" y1="0" y2="0"><stop offset="0.000" stop-color="#00ff30"/><stop offset="0.033" stop-color="#03ff25"/><stop offset="0.067" stop-color="#10ff28"/><stop offset="0.100" stop-color="#1cff2d"/><stop offset="0.133" stop-color="#26ff2f"/><stop offset="0.167" stop-color="#2bff2d"/><stop offset="0.200" stop-color="#30ff2a"/><stop offset="0.233" stop-color="#32ff24"/><stop offset="0.267" stop-color="#37ff1b"/><stop offset="0.300" stop-color="#3fff10"/><stop offset="0.333" stop-color="#49ff02"/><stop offset="0.367" stop-color="#5eff00"/><stop offset="0.400" stop-color="#72ff00"/><stop offset="0.433" stop-color="#86ff00"/><stop offset="0.467" stop-color="#97ff00"/><stop offset="0.500" stop-color="#a7ff00"/><stop offset="0.533" stop-color="#b5ff00"/><stop offset="0.567" stop-color="#c1ff00"/><stop offset="0.600" stop-color="#cdff00"/><stop offset="0.633" stop-color="#d7ff00"/><stop offset="0.667" stop-color="#e0ff00"/><stop offset="0.700" stop-color="#e9ff00"/><stop offset="0.733" stop-color="#edf800"/><stop offset="0.767" stop-color="#eff000"/><stop offset="0.800" stop-color="#f2e900"/><stop offset="0.833" stop-color="#f4e300"/><stop offset="0.867" stop-color="#f6dd00"/><stop offset="0.900" stop-color="#f8d700"/><stop offset="0.933" stop-color="#f9d200"/><stop offset="0.967" stop-color="#fbcd00"/><stop offset="1.000" stop-color="#fdc800"/></linearGradient>
<linearGradient id="g10" gradientUnits="userSpaceOnUse" x1="208" x2="328" y1="0" y2="0"><stop offset="0.000" stop-color="#00ff36"/><stop offset="0.033" stop-color="#04ff2c"/><stop offset="0.067" stop-color="#12ff2c"/><stop offset="0.100" stop-color="#1eff32"/><stop offset="0.133" stop-color="#2aff36"/><stop offset="0.167" stop-color="#30ff34"/><stop offset="0.200" stop-color="#35ff31"/><stop offset="0.233" stop-color="#38ff2c"/><stop offset="0.267" stop-color="#3cff24"/><stop offset="0.300" stop-color="#44ff19"/><stop offset="0.333" stop-color="#4dff0b"/><stop offset="0.367" stop-color="#5cff00"/><stop offset="0.400" stop-color="#71ff00"/><stop offset="0.433" stop-color="#85ff00"/><stop offset="0.467" stop-color="#97ff00"/><stop offset="0.500" stop-color="#a7ff00"/><stop offset="0.533" stop-color="#b6fe00"/><stop offset="0.567" stop-color="#c3ff00"/><stop offset="0.600" stop-color="#ceff00"/><stop offset="0.633" stop-color="#d9fe00"/><stop offset="0.667" stop-color="#e2ff00"/><stop offset="0.700" stop-color="#ebfe00"/><stop offset="0.733" stop-color="#edf600"/><stop offset="0.767" stop-color="#f0ee00"/><stop offset="0.800" stop-color="#f2e700"/><stop offset="0.833" stop-color="#f4e100"/><stop offset="0.867" stop-color="#f7da00"/><stop offset="0.900" stop-color="#f8d500"/><stop offset="0.933" stop-color="#facf00"/><stop offset="0.967" stop-color="#fcca00"/><stop offset="1.000" stop-color="#fdc600"/></linearGradient>
<linearGradient id="g11" gradientUnits="userSpaceOnUse" x1="208" x2="328" y1="0" y2="0"><stop offset="0.000" stop-color="#00ff3c"/><stop offset="0.033" stop-color="#05ff33"/><stop offset="0.067" stop-color="#15ff31"/><stop offset="0.100" stop-color="#21ff36"/><stop offset="0.133" stop-color="#2dff3b"/><stop offset="0.167" stop-color="#34ff3b"/><stop offset="0.200" stop-color="#3aff38"/><stop offset="0.233" stop-color="#3eff34"/><stop offset="0.267" stop-color="#40ff2c"/><stop offset="0.300" stop-color="#48ff21"/><stop offset="0.333" stop-color="#51fe14"/><stop offset="0.367" stop-color="#5eff06"/><stop offset="0.400" stop-color="#70ff00"/><stop offset="0.433" stop-color="#85ff00"/><stop offset="0.467" stop-color="#98ff00"/><stop offset="0.500" stop-color="#a8ff00"/><stop offset="0.533" stop-color="#b7ff00"/><stop offset="0.567" stop-color="#c4ff00"/><stop offset="0.600" stop-color="#d0ff00"/><stop offset="0.633" stop-color="#dbff00"/><stop offset="0.667" stop-color="#e4ff00"/><stop offset="0.700" stop-color="#ebfc00"/><stop offset="0.733" stop-color="#eef300"/><stop offset="0.767" stop-color="#f1ec00"/><stop offset="0.800" stop-color="#f3e500"/><stop offset="0.833" stop-color="#f5de00"/><stop offset="0.867" stop-color="#f7d800"/><stop offset="0.900" stop-color="#f9d200"/><stop offset="0.933" stop-color="#fbcd00"/><stop offset="0.967" stop-color="#fdc800"/><stop offset="1.000" stop-color="#fec300"/></linearGradient>
<linearGradient id="g12" gradientUnits="userSpaceOnUse" x1="208" x2="328" y1="0" y2="0"><stop offset="0.000" stop-color="#00ff42"/><stop offset="0.033" stop-color="#06ff39"/><stop offset="0.067" stop-color="#16ff38"/><stop offset="0.100" stop-color="#23fe3a"/><stop offset="0.133" stop-color="#30ff3f"/><stop offset="0.167" stop-color="#39ff42"/><stop offset="0.200" stop-color="#3fff3f"/><stop offset="0.233" stop-color="#43ff3c"/><stop offset="0.267" stop-color="#44ff35"/><stop offset="0.300" stop-color="#4dff2a"/><stop offset="0.333" stop-color="#55ff1e"/><stop offset="0.367" stop-color="#62ff0f"/><stop offset="0.400" stop-color="#6fff00"/><stop offset="0.433" stop-color="#85ff00"/><stop offset="0.467" stop-color="#98ff00"/><stop offset="0.500" stop-color="#a9ff00"/><stop offset="0.533" stop-color="#b8ff00"/><stop offset="0.567" stop-color="#c6ff00"/><stop offset="0.600" stop-color="#d2ff00"/><stop offset="0.633" stop-color="#ddff00"/><stop offset="0.667" stop-color="#e7ff00"/><stop offset="0.700" stop-color="#ecf900"/><stop offset="0.733" stop-color="#eff100"/><stop offset="0.767" stop-color="#f2e900"/><stop offset="0.800" stop-color="#f4e200"/><stop offset="0.833" stop-color="#f6dc00"/><stop offset="0.867" stop-color="#f8d500"/><stop offset="0.900" stop-color="#facf00"/><stop offset="0.933" stop-color="#fcca00"/><stop offset="0.967" stop-color="#fec500"/><stop offset="1.000" stop-color="#ffc000"/></linearGradient>
<linearGradient id="g13" gradientUnits="userSpaceOnUse" x1="208" x2="328" y1="0" y2="0"><stop offset="0.000" stop-color="#00ff48"/><stop offset="0.033" stop-color="#06ff40"/><stop offset="0.067" stop-color="#16ff3f"/><stop offset="0.100" stop-color="#26ff3f"/><stop offset="0.133" stop-color="#32ff44"/><stop offset="0.167" stop-color="#3eff49"/><stop offset="0.200" stop-color="#43ff46"/><stop offset="0.233" stop-color="#48ff43"/><stop offset="0.267" stop-color="#4aff3d"/><stop offset="0.300" stop-color="#51ff33"/><stop offset="0.333" stop-color="#59ff27"/><stop offset="0.367" stop-color="#66ff18"/><stop offset="0.400" stop-color="#73ff09"/><stop offset="0.433" stop-color="#84ff00"/><stop offset="0.467" stop-color="#98ff00"/><stop offset="0.500" stop-color="#aaff00"/><stop offset="0.533" stop-color="#b9ff00"/><stop offset="0.567" stop-color="#c7ff00"/><stop offset="0.600" stop-color="#d4ff00"/><stop offset="0.633" stop-color="#dfff00"/><stop offset="0.667" stop-color="#e9ff00"/><stop offset="0.700" stop-color="#edf700"/><stop offset="0.733" stop-color="#f0ee00"/><stop offset="0.767" stop-color="#f2e700"/><stop offset="0.800" stop-color="#f5e000"/><stop offset="0.833" stop-color="#f7d900"/><stop offset="0.867" stop-color="#f9d300"/><stop offset="0.900" stop-color="#fbcd00"/><stop offset="0.933" stop-color="#fdc700"/><stop offset="0.967" stop-color="#ffc200"/><stop offset="1.000" stop-color="#ffbd00"/></linearGradient>
<linearGradient id="g14" gradientUnits="userSpaceOnUse" x1="208" x2="328" y1="0" y2="0"><stop offset="0.000" stop-color="#00ff4e"/><stop offset="0.033" stop-color="#07ff47"/><stop offset="0.067" stop-color="#17ff46"/><stop offset="0.100" stop-color="#27ff45"/><stop offset="0.133" stop-color="#35ff48"/><stop offset="0.167" stop-color="#41ff4e"/><stop offset="0.200" stop-color="#48ff4d"/><stop offset="0.233" stop-color="#4dff4a"/><stop offset="0.267" stop-color="#50ff45"/><stop offset="0.300" stop-color="#55ff3c"/><stop offset="0.333" stop-color="#5dff2f"/><stop offset="0.367" stop-color="#6aff21"/><stop offset="0.400" stop-color="#77ff12"/><stop offset="0.433" stop-color="#85ff02"/><stop offset="0.467" stop-color="#99ff00"/><stop offset="0.500" stop-color="#abff00"/><stop offset="0.533" stop-color="#bbff00"/><stop offset="0.567" stop-color="#c9ff00"/><stop offset="0.600" stop-color="#d6ff00"/><stop offset="0.633" stop-color="#e1ff00"/><stop offset="0.667" stop-color="#ebfe00"/><stop offset="0.700" stop-color="#eef400"/><stop offset="0.733" stop-color="#f1ec00"/><stop offset="0.767" stop-color="#f3e400"/><stop offset="0.800" stop-color="#f6dd00"/><stop offset="0.833" stop-color="#f8d600"/><stop offset="0.867" stop-color="#fad000"/><stop offset="0.900" stop-color="#fcca00"/><stop offset="0.933" stop-color="#fec400"/><stop offset="0.967" stop-color="#ffbf00"/><stop offset="1.000" stop-color="#ffba00"/></linearGradient>
<linearGradient id="g15" gradientUnits="userSpaceOnUse" x1="208" x2="328" y1="0" y2="0"><stop offset="0.000" stop-color="#00ff55"/><stop offset="0.033" stop-color="#08ff4e"/><stop offset="0.067" stop-color="#18ff4d"/><stop offset="0.100" stop-color="#28ff4c"/><stop offset="0.133" stop-color="#37ff4d"/><stop offset="0.167" stop-color="#43ff52"/><stop offset="0.200" stop-color="#4dff54"/><stop offset="0.233" stop-color="#52ff51"/><stop offset="0.267" stop-color="#56fe4d"/><stop offset="0.300" stop-color="#5aff44"/><stop offset="0.333" stop-color="#62ff38"/><stop offset="0.367" stop-color="#6eff2a"/><stop offset="0.400" stop-color="#7bff1b"/><stop offset="0.433" stop-color="#89ff0b"/><stop offset="0.467" stop-color="#99fe00"/><stop offset="0.500" stop-color="#acff00"/><stop offset="0.533" stop-color="#bcff00"/><stop offset="0.567" stop-color="#cbff00"/><stop offset="0.600" stop-color="#d8ff00"/><stop offset="0.633" stop-color="#e3ff00"/><stop offset="0.667" stop-color="#ecfb00"/><stop offset="0.700" stop-color="#eff200"/><stop offset="0.733" stop-color="#f2e900"/><stop offset="0.767" stop-color="#f4e100"/><stop offset="0.800" stop-color="#f7da00"/><stop offset="0.833" stop-color="#f9d300"/><stop offset="0.867" stop-color="#fbcd00"/><stop offset="0.900" stop-color="#fdc700"/><stop offset="0.933" stop-color="#ffc100"/><stop offset="0.967" stop-color="#ffbc00"/><stop offset="1.000" stop-color="#ffb700"/></linearGradient>
<linearGradient id="g16" gradientUnits="userSpaceOnUse" x1="208" x2="328" y1="0" y2="0"><stop offset="0.000" stop-color="#00ff5c"/><stop offset="0.033" stop-color="#09ff55"/><stop offset="0.067" stop-color="#19ff54"/><stop offset="0.100" stop-color="#29ff53"/><stop offset="0.133" stop-color="#3aff51"/><stop offset="0.167" stop-color="#46ff56"/><stop offset="0.200" stop-color="#52ff5b"/><stop offset="0.233" stop-color="#57ff58"/><stop offset="0.267" stop-color="#5cff55"/><stop offset="0.300" stop-color="#5eff4d"/><stop offset="0.333" stop-color="#67ff41"/><stop offset="0.367" stop-color="#72ff34"/><stop offset="0.400" stop-color="#7fff24"/><stop offset="0.433" stop-color="#8dff14"/><stop offset="0.467" stop-color="#9bff04"/><stop offset="0.500" stop-color="#adff00"/><stop offset="0.533" stop-color="#beff00"/><stop offset="0.567" stop-color="#cdff00"/><stop offset="0.600" stop-color="#daff00"/><stop offset="0.633" stop-color="#e6ff00"/><stop offset="0.667" stop-color="#ecf900"/><stop offset="0.700" stop-color="#f0ef00"/><stop offset="0.733" stop-color="#f3e600"/><stop offset="0.767" stop-color="#f5de00"/><stop offset="0.800" stop-color="#f8d700"/><stop offset="0.833" stop-color="#fad000"/><stop offset="0.867" stop-color="#fcca00"/><stop offset="0.900" stop-color="#fec400"/><stop offset="0.933" stop-color="#ffbe00"/><stop offset="0.967" stop-color="#ffb900"/><stop offset="1.000" stop-color="#ffb400"/></linearGradient>
<linearGradient id="g17" gradientUnits="userSpaceOnUse" x1="208" x2="328" y1="0" y2="0"><stop offset="0.000" stop-color="#00ff63"/><stop offset="0.033" stop-color="#09ff5c"/><stop offset="0.067" stop-color="#1aff5b"/><stop offset="0.100" stop-color="#2aff5a"/><stop offset="0.133" stop-color="#3bff59"/><stop offset="0.167" stop-color="#49ff5b"/><stop offset="0.200" stop-color="#55ff60"/><stop offset="0.233" stop-color="#5cff5f"/><stop offset="0.267" stop-color="#61ff5c"/><stop offset="0.300" stop-color="#63ff56"/><stop offset="0.333" stop-color="#6bff4a"/><stop offset="0.367" stop-color="#76ff3d"/><stop offset="0.400" stop-color="#83ff2e"/><stop offset="0.433" stop-color="#91ff1d"/><stop offset="0.467" stop-color="#9fff0d"/><stop offset="0.500" stop-color="#aeff00"/><stop offset="0.533" stop-color="#c0ff00"/><stop offset="0.567" stop-color="#cfff00"/><stop offset="0.600" stop-color="#dcff00"/><stop offset="0.633" stop-color="#e8ff00"/><stop offset="0.667" stop-color="#edf600"/><stop offset="0.700" stop-color="#f1ec00"/><stop offset="0.733" stop-color="#f4e300"/><stop offset="0.767" stop-color="#f6db00"/><stop offset="0.800" stop-color="#f9d300"/><stop offset="0.833" stop-color="#fbcd00"/><stop offset="0.867" stop-color="#fdc600"/><stop offset="0.900" stop-color="#ffc000"/><stop offset="0.933" stop-color="#ffbb00"/><stop offset="0.967" stop-color="#ffb600"/><stop offset="1.000" stop-color="#ffb100"/></linearGradient>
<linearGradient id="g18" gradientUnits="userSpaceOnUse" x1="208" x2="328" y1="0" y2="0"><stop offset="0.000" stop-color="#00ff69"/><stop offset="0.033" stop-color="#08ff63"/><stop offset="0.067" stop-color="#1bff62"/><stop offset="0.100" stop-color="#2bff61"/><stop offset="0.133" stop-color="#3bff60"/><stop offset="0.167" stop-color="#4bff5f"/><stop offset="0.200" stop-color="#58ff65"/><stop offset="0.233" stop-color="#61ff66"/><stop offset="0.267" stop-color="#66ff63"/><stop offset="0.300" stop-color="#69ff5e"/><stop offset="0.333" stop-color="#70ff54"/><stop offset="0.367" stop-color="#7aff46"/><stop offset="0.400" stop-color="#87ff37"/><stop offset="0.433" stop-color="#95ff27"/><stop offset="0.467" stop-color="#a3ff16"/><stop offset="0.500" stop-color="#b1ff05"/><stop offset="0.533" stop-color="#c2ff00"/><stop offset="0.567" stop-color="#d1ff00"/><stop offset="0.600" stop-color="#dfff00"/><stop offset="0.633" stop-color="#ebfe00"/><stop offset="0.667" stop-color="#eef300"/><stop offset="0.700" stop-color="#f2e900"/><stop offset="0.733" stop-color="#f5e000"/><stop offset="0.767" stop-color="#f7d800"/><stop offset="0.800" stop-color="#fad000"/><stop offset="0.833" stop-color="#fcc900"/><stop offset="0.867" stop-color="#fec300"/><stop offset="0.900" stop-color="#ffbd00"/><stop offset="0.933" stop-color="#ffb700"/><stop offset="0.967" stop-color="#ffb200"/><stop offset="1.000" stop-color="#ffad00"/></linearGradient>
<linearGradient id="g19" gradientUnits="userSpaceOnUse" x1="208" x2="328" y1="0" y2="0"><stop offset="0.000" stop-color="#00ff70"/><stop offset="0.033" stop-color="#08ff6a"/><stop offset="0.067" stop-color="#1bff69"/><stop offset="0.100" stop-color="#2cff68"/><stop offset="0.133" stop-color="#3cff67"/><stop offset="0.167" stop-color="#4dff66"/><stop offset="0.200" stop-color="#5aff69"/><stop offset="0.233" stop-color="#66ff6d"/><stop offset="0.267" stop-color="#6bff6a"/><stop offset="0.300" stop-color="#6fff66"/><stop offset="0.333" stop-color="#74ff5c"/><stop offset="0.367" stop-color="#7dfe4f"/><stop offset="0.400" stop-color="#8bff40"/><stop offset="0.433" stop-color="#99ff30"/><stop offset="0.467" stop-color="#a7ff1f"/><stop offset="0.500" stop-color="#b5ff0e"/><stop offset="0.533" stop-color="#c4ff00"/><stop offset="0.567" stop-color="#d4ff00"/><stop offset="0.600" stop-color="#e2ff00"/><stop offset="0.633" stop-color="#ecfb00"/><stop offset="0.667" stop-color="#f0ef00"/><stop offset="0.700" stop-color="#f3e500"/><stop offset="0.733" stop-color="#f6dc00"/><stop offset="0.767" stop-color="#f9d400"/><stop offset="0.800" stop-color="#fbcd00"/><stop offset="0.833" stop-color="#fdc600"/><stop offset="0.867" stop-color="#ffbf00"/><stop offset="0.900" stop-color="#ffb900"/><stop offset="0.933" stop-color="#ffb400"/><stop offset="0.967" stop-color="#ffaf00"/><stop offset="1.000" stop-color="#ffaa00"/></linearGradient>
<linearGradient id="g20" gradientUnits="userSpaceOnUse" x1="208" x2="328" y1="0" y2="0"><stop offset="0.000" stop-color="#00ff77"/><stop offset="0.033" stop-color="#08ff71"/><stop offset="0.067" stop-color="#1aff70"/><stop offset="0.100" stop-color="#2dff6f"/><stop offset="0.133" stop-color="#3dff6e"/><stop offset="0.167" stop-color="#4eff6d"/><stop offset="0.200" stop-color="#5dff6e"/><stop offset="0.233" stop-color="#69ff73"/><stop offset="0.267" stop-color="#70ff72"/><stop offset="0.300" stop-color="#75ff6e"/><stop offset="0.333" stop-color="#79ff65"/><stop offset="0.367" stop-color="#81ff59"/><stop offset="0.400" stop-color="#8fff4a"/><stop offset="0.433" stop-color="#9dff39"/><stop offset="0.467" stop-color="#acff28"/><stop offset="0.500" stop-color="#bafe17"/><stop offset="0.533" stop-color="#c7ff06"/><stop offset="0.567" stop-color="#d6ff00"/><stop offset="0.600" stop-color="#e5ff00"/><stop offset="0.633" stop-color="#edf700"/><stop offset="0.667" stop-color="#f1ec00"/><stop offset="0.700" stop-color="#f4e200"/><stop offset="0.733" stop-color="#f7d900"/><stop offset="0.767" stop-color="#fad000"/><stop offset="0.800" stop-color="#fcc900"/><stop offset="0.833" stop-color="#ffc200"/><stop offset="0.867" stop-color="#ffbb00"/><stop offset="0.900" stop-color="#feb500"/><stop offset="0.933" stop-color="#ffb000"/><stop offset="0.967" stop-color="#ffab00"/><stop offset="1.000" stop-color="#ffa600"/></linearGradient>
<linearGradient id="g21" gradientUnits="userSpaceOnUse" x1="208" x2="328" y1="0" y2="0"><stop offset="0.000" stop-color="#00ff7e"/><stop offset="0.033" stop-color="#07ff78"/><stop offset="0.067" stop-color="#1aff77"/><stop offset="0.100" stop-color="#2cff76"/><stop offset="0.133" stop-color="#3eff75"/><stop offset="0.167" stop-color="#4fff74"/><stop offset="0.200" stop-color="#5fff73"/><stop offset="0.233" stop-color="#6cff78"/><stop offset="0.267" stop-color="#75ff79"/><stop offset="0.300" stop-color="#7aff76"/><stop offset="0.333" stop-color="#7dff6e"/><stop offset="0.367" stop-color="#86ff62"/><stop offset="0.400" stop-color="#93ff53"/><stop offset="0.433" stop-color="#a1ff43"/><stop offset="0.467" stop-color="#b0ff32"/><stop offset="0.500" stop-color="#beff21"/><stop offset="0.533" stop-color="#ccff0f"/><stop offset="0.567" stop-color="#d9ff00"/><stop offset="0.600" stop-color="#e8ff00"/><stop offset="0.633" stop-color="#eef400"/><stop offset="0.667" stop-color="#f2e800"/><stop offset="0.700" stop-color="#f5de00"/><stop offset="0.733" stop-color="#f8d500"/><stop offset="0.767" stop-color="#fbcd00"/><stop offset="0.800" stop-color="#fec500"/><stop offset="0.833" stop-color="#ffbe00"/><stop offset="0.867" stop-color="#ffb700"/><stop offset="0.900" stop-color="#ffb100"/><stop offset="0.933" stop-color="#ffac00"/><stop offset="0.967" stop-color="#ffa700"/><stop offset="1.000" stop-color="#ffa200"/></linearGradient>
<linearGradient id="g22" gradientUnits="userSpaceOnUse" x1="208" x2="328" y1="0" y2="0"><stop offset="0.000" stop-color="#00fe84"/><stop offset="0.033" stop-color="#07ff7f"/><stop offset="0.067" stop-color="#19ff7e"/><stop offset="0.100" stop-color="#2cff7d"/><stop offset="0.133" stop-color="#3fff7c"/><stop offset="0.167" stop-color="#50ff7b"/><stop offset="0.200" stop-color="#60ff7a"/><stop offset="0.233" stop-color="#6fff7c"/><stop offset="0.267" stop-color="#7aff80"/><stop offset="0.300" stop-color="#7fff7d"/><stop offset="0.333" stop-color="#82ff77"/><stop offset="0.367" stop-color="#8aff6b"/><stop offset="0.400" stop-color="#97ff5d"/><stop offset="0.433" stop-color="#a5ff4c"/><stop offset="0.467" stop-color="#b4ff3b"/><stop offset="0.500" stop-color="#c2ff2a"/><stop offset="0.533" stop-color="#d0ff19"/><stop offset="0.567" stop-color="#ddff07"/><stop offset="0.600" stop-color="#ebfe00"/><stop offset="0.633" stop-color="#eff000"/><stop offset="0.667" stop-color="#f3e500"/><stop offset="0.700" stop-color="#f7da00"/><stop offset="0.733" stop-color="#fad100"/><stop offset="0.767" stop-color="#fdc800"/><stop offset="0.800" stop-color="#ffc100"/><stop offset="0.833" stop-color="#ffba00"/><stop offset="0.867" stop-color="#ffb300"/><stop offset="0.900" stop-color="#ffad00"/><stop offset="0.933" stop-color="#ffa800"/><stop offset="0.967" stop-color="#ffa300"/><stop offset="1.000" stop-color="#ff9e00"/></linearGradient>
<linearGradient id="g23" gradientUnits="userSpaceOnUse" x1="208" x2="328" y1="0" y2="0"><stop offset="0.000" stop-color="#00ff8b"/><stop offset="0.033" stop-color="#07fe86"/><stop offset="0.067" stop-color="#19ff85"/><stop offset="0.100" stop-color="#2cff84"/><stop offset="0.133" stop-color="#3eff83"/><stop offset="0.167" stop-color="#50ff82"/><stop offset="0.200" stop-color="#61ff81"/><stop offset="0.233" stop-color="#71ff81"/><stop offset="0.267" stop-color="#7eff86"/><stop offset="0.300" stop-color="#85ff84"/><stop offset="0.333" stop-color="#88ff80"/><stop offset="0.367" stop-color="#8fff75"/><stop offset="0.400" stop-color="#9bff66"/><stop offset="0.433" stop-color="#a9ff56"/><stop offset="0.467" stop-color="#b8ff44"/><stop offset="0.500" stop-color="#c6ff33"/><stop offset="0.533" stop-color="#d4ff22"/><stop offset="0.567" stop-color="#e2ff11"/><stop offset="0.600" stop-color="#ecfa00"/><stop offset="0.633" stop-color="#f1ec00"/><stop offset="0.667" stop-color="#f5e000"/><stop offset="0.700" stop-color="#f8d600"/><stop offset="0.733" stop-color="#fbcc00"/><stop offset="0.767" stop-color="#fec400"/><stop offset="0.800" stop-color="#ffbc00"/><stop offset="0.833" stop-color="#ffb500"/><stop offset="0.867" stop-color="#ffaf00"/><stop offset="0.900" stop-color="#ffa900"/><stop offset="0.933" stop-color="#ffa300"/><stop offset="0.967" stop-color="#ff9e00"/><stop offset="1.000" stop-color="#ff9900"/></linearGradient>
<linearGradient id="g24" gradientUnits="userSpaceOnUse" x1="208" x2="328" y1="0" y2="0"><stop offset="0.000" stop-color="#00ff93"/><stop offset="0.033" stop-color="#06ff8d"/><stop offset="0.067" stop-color="#19ff8c"/><stop offset="0.100" stop-color="#2bff8b"/><stop offset="0.133" stop-color="#3eff8b"/><stop offset="0.167" stop-color="#51ff8a"/><stop offset="0.200" stop-color="#62ff88"/><stop offset="0.233" stop-color="#73ff87"/><stop offset="0.267" stop-color="#81ff8b"/><stop offset="0.300" stop-color="#8aff8c"/><stop offset="0.333" stop-color="#8eff88"/><stop offset="0.367" stop-color="#94ff7e"/><stop offset="0.400" stop-color="#9fff70"/><stop offset="0.433" stop-color="#aeff5f"/><stop offset="0.467" stop-color="#bcff4e"/><stop offset="0.500" stop-color="#cbff3d"/><stop offset="0.533" stop-color="#d8ff2b"/><stop offset="0.567" stop-color="#e6ff1a"/><stop offset="0.600" stop-color="#eef609"/><stop offset="0.633" stop-color="#f2e800"/><stop offset="0.667" stop-color="#f6dc00"/><stop offset="0.700" stop-color="#fad100"/><stop offset="0.733" stop-color="#fdc800"/><stop offset="0.767" stop-color="#febf00"/><stop offset="0.800" stop-color="#ffb700"/><stop offset="0.833" stop-color="#ffb000"/><stop offset="0.867" stop-color="#ffaa00"/><stop offset="0.900" stop-color="#ffa400"/><stop offset="0.933" stop-color="#ff9f00"/><stop offset="0.967" stop-color="#fe9a00"/><stop offset="1.000" stop-color="#ff9500"/></linearGradient>
<linearGradient id="g25" gradientUnits="userSpaceOnUse" x1="208" x2="328" y1="0" y2="0"><stop offset="0.000" stop-color="#00ff9a"/><stop offset="0.033" stop-color="#05ff94"/><stop offset="0.067" stop-color="#18ff93"/><stop offset="0.100" stop-color="#2bff92"/><stop offset="0.133" stop-color="#3eff92"/><stop offset="0.167" stop-color="#51ff91"/><stop offset="0.200" stop-color="#63ff90"/><stop offset="0.233" stop-color="#74ff8e"/><stop offset="0.267" stop-color="#83ff90"/><stop offset="0.300" stop-color="#8fff93"/><stop offset="0.333" stop-color="#94ff90"/><stop offset="0.367" stop-color="#99ff87"/><stop offset="0.400" stop-color="#a4ff79"/><stop offset="0.433" stop-color="#b2ff69"/><stop offset="0.467" stop-color="#c1ff57"/><stop offset="0.500" stop-color="#cfff46"/><stop offset="0.533" stop-color="#ddff34"/><stop offset="0.567" stop-color="#eaff23"/><stop offset="0.600" stop-color="#f0f212"/><stop offset="0.633" stop-color="#f4e300"/><stop offset="0.667" stop-color="#f8d700"/><stop offset="0.700" stop-color="#fbcc00"/><stop offset="0.733" stop-color="#fec300"/><stop offset="0.767" stop-color="#ffba00"/><stop offset="0.800" stop-color="#ffb200"/><stop offset="0.833" stop-color="#ffab00"/><stop offset="0.867" stop-color="#ffa500"/><stop offset="0.900" stop-color="#fe9f00"/><stop offset="0.933" stop-color="#ff9a00"/><stop offset="0.967" stop-color="#ff9500"/><stop offset="1.000" stop-color="#ff9000"/></linearGradient>
<linearGradient id="g26" gradientUnits="userSpaceOnUse" x1="208" x2="328" y1="0" y2="0"><stop offset="0.000" stop-color="#00ffa2"/><stop offset="0.033" stop-color="#04ff9b"/><stop offset="0.067" stop-color="#18ff9a"/><stop offset="0.100" stop-color="#2bff99"/><stop offset="0.133" stop-color="#3dfe99"/><stop offset="0.167" stop-color="#50ff98"/><stop offset="0.200" stop-color="#63ff97"/><stop offset="0.233" stop-color="#75ff96"/><stop offset="0.267" stop-color="#86ff94"/><stop offset="0.300" stop-color="#93ff9a"/><stop offset="0.333" stop-color="#99ff98"/><stop offset="0.367" stop-color="#9dff90"/><stop offset="0.400" stop-color="#a8ff83"/><stop offset="0.433" stop-color="#b6ff72"/><stop offset="0.467" stop-color="#c5ff61"/><stop offset="0.500" stop-color="#d3ff4f"/><stop offset="0.533" stop-color="#e1ff3e"/><stop offset="0.567" stop-color="#eefe2c"/><stop offset="0.600" stop-color="#f2ee1b"/><stop offset="0.633" stop-color="#f6e00a"/><stop offset="0.667" stop-color="#f9d200"/><stop offset="0.700" stop-color="#fdc700"/><stop offset="0.733" stop-color="#ffbd00"/><stop offset="0.767" stop-color="#ffb500"/><stop offset="0.800" stop-color="#ffad00"/><stop offset="0.833" stop-color="#ffa600"/><stop offset="0.867" stop-color="#ffa000"/><stop offset="0.900" stop-color="#ff9a00"/><stop offset="0.933" stop-color="#ff9400"/><stop offset="0.967" stop-color="#ff8f00"/><stop offset="1.000" stop-color="#ff8b00"/></linearGradient>
<linearGradient id="g27" gradientUnits="userSpaceOnUse" x1="208" x2="328" y1="0" y2="0"><stop offset="0.000" stop-color="#00ffa9"/><stop offset="0.033" stop-color="#03ffa3"/><stop offset="0.067" stop-color="#16ffa2"/><stop offset="0.100" stop-color="#2affa1"/><stop offset="0.133" stop-color="#3dffa0"/><stop offset="0.167" stop-color="#50ff9f"/><stop offset="0.200" stop-color="#63ff9e"/><stop offset="0.233" stop-color="#76ff9d"/><stop offset="0.267" stop-color="#87ff9c"/><stop offset="0.300" stop-color="#96ff9f"/><stop offset="0.333" stop-color="#9fff9f"/><stop offset="0.367" stop-color="#a2ff9a"/><stop offset="0.400" stop-color="#acff8d"/><stop offset="0.433" stop-color="#baff7c"/><stop offset="0.467" stop-color="#c9ff6b"/><stop offset="0.500" stop-color="#d8ff59"/><stop offset="0.533" stop-color="#e6ff47"/><stop offset="0.567" stop-color="#f0fa35"/><stop offset="0.600" stop-color="#f4eb24"/><stop offset="0.633" stop-color="#f8dc13"/><stop offset="0.667" stop-color="#fbcd01"/><stop offset="0.700" stop-color="#ffc100"/><stop offset="0.733" stop-color="#ffb800"/><stop offset="0.767" stop-color="#ffaf00"/><stop offset="0.800" stop-color="#ffa700"/><stop offset="0.833" stop-color="#ffa000"/><stop offset="0.867" stop-color="#ff9a00"/><stop offset="0.900" stop-color="#ff9400"/><stop offset="0.933" stop-color="#ff8f00"/><stop offset="0.967" stop-color="#ff8a00"/><stop offset="1.000" stop-color="#fe8600"/></linearGradient>
<linearGradient id="g28" gradientUnits="userSpaceOnUse" x1="208" x2="328" y1="0" y2="0"><stop offset="0.000" stop-color="#00ffb1"/><stop offset="0.033" stop-color="#02ffaa"/><stop offset="0.067" stop-color="#15ffa9"/><stop offset="0.100" stop-color="#29ffa8"/><stop offset="0.133" stop-color="#3dfea7"/><stop offset="0.167" stop-color="#50ffa6"/><stop offset="0.200" stop-color="#63ffa6"/><stop offset="0.233" stop-color="#76ffa5"/><stop offset="0.267" stop-color="#88ffa4"/><stop offset="0.300" stop-color="#99ffa3"/><stop offset="0.333" stop-color="#a4ffa7"/><stop offset="0.367" stop-color="#a8ffa2"/><stop offset="0.400" stop-color="#b0ff96"/><stop offset="0.433" stop-color="#beff86"/><stop offset="0.467" stop-color="#cdff74"/><stop offset="0.500" stop-color="#dcff62"/><stop offset="0.533" stop-color="#eaff51"/><stop offset="0.567" stop-color="#f2f63f"/><stop offset="0.600" stop-color="#f6e72d"/><stop offset="0.633" stop-color="#fad71c"/><stop offset="0.667" stop-color="#fdc80a"/><stop offset="0.700" stop-color="#ffbb00"/><stop offset="0.733" stop-color="#ffb100"/><stop offset="0.767" stop-color="#ffa900"/><stop offset="0.800" stop-color="#ffa100"/><stop offset="0.833" stop-color="#ff9a00"/><stop offset="0.867" stop-color="#ff9400"/><stop offset="0.900" stop-color="#ff8e00"/><stop offset="0.933" stop-color="#ff8900"/><stop offset="0.967" stop-color="#ff8400"/><stop offset="1.000" stop-color="#ff8000"/></linearGradient>
<linearGradient id="g29" gradientUnits="userSpaceOnUse" x1="208" x2="328" y1="0" y2="0"><stop offset="0.000" stop-color="#00ffb8"/><stop offset="0.033" stop-color="#00ffb2"/><stop offset="0.067" stop-color="#14ffb1"/><stop offset="0.100" stop-color="#28ffb0"/><stop offset="0.133" stop-color="#3bffaf"/><stop offset="0.167" stop-color="#4fffae"/><stop offset="0.200" stop-color="#62ffad"/><stop offset="0.233" stop-color="#76ffac"/><stop offset="0.267" stop-color="#89ffab"/><stop offset="0.300" stop-color="#9bffaa"/><stop offset="0.333" stop-color="#a9ffae"/><stop offset="0.367" stop-color="#afffab"/><stop offset="0.400" stop-color="#b5ffa0"/><stop offset="0.433" stop-color="#c3ff90"/><stop offset="0.467" stop-color="#d2ff7e"/><stop offset="0.500" stop-color="#e0ff6c"/><stop offset="0.533" stop-color="#efff5a"/><stop offset="0.567" stop-color="#f4f248"/><stop offset="0.600" stop-color="#f8e336"/><stop offset="0.633" stop-color="#fcd325"/><stop offset="0.667" stop-color="#ffc414"/><stop offset="0.700" stop-color="#ffb502"/><stop offset="0.733" stop-color="#ffaa00"/><stop offset="0.767" stop-color="#ffa200"/><stop offset="0.800" stop-color="#ff9a00"/><stop offset="0.833" stop-color="#ff9300"/><stop offset="0.867" stop-color="#ff8d00"/><stop offset="0.900" stop-color="#ff8800"/><stop offset="0.933" stop-color="#ff8300"/><stop offset="0.967" stop-color="#ff7e00"/><stop offset="1.000" stop-color="#ff7a00"/></linearGradient>
<linearGradient id="g30" gradientUnits="userSpaceOnUse" x1="208" x2="328" y1="0" y2="0"><stop offset="0.000" stop-color="#00ffbf"/><stop offset="0.033" stop-color="#00ffb9"/><stop offset="0.067" stop-color="#13ffb8"/><stop offset="0.100" stop-color="#26ffb7"/><stop offset="0.133" stop-color="#3affb6"/><stop offset="0.167" stop-color="#4effb5"/><stop offset="0.200" stop-color="#62ffb4"/><stop offset="0.233" stop-color="#75ffb3"/><stop offset="0.267" stop-color="#89ffb3"/><stop offset="0.300" stop-color="#9cffb1"/><stop offset="0.333" stop-color="#acffb3"/><stop offset="0.367" stop-color="#b4ffb3"/><stop offset="0.400" stop-color="#baffaa"/><stop offset="0.433" stop-color="#c7ff9a"/><stop offset="0.467" stop-color="#d6ff88"/><stop offset="0.500" stop-color="#e5ff76"/><stop offset="0.533" stop-color="#f3fe64"/><stop offset="0.567" stop-color="#f6ee52"/><stop offset="0.600" stop-color="#fadf40"/><stop offset="0.633" stop-color="#fecf2e"/><stop offset="0.667" stop-color="#ffc01d"/><stop offset="0.700" stop-color="#ffb00b"/><stop offset="0.733" stop-color="#ffa300"/><stop offset="0.767" stop-color="#ff9a00"/><stop offset="0.800" stop-color="#ff9300"/><stop offset="0.833" stop-color="#ff8c00"/><stop offset="0.867" stop-color="#ff8600"/><stop offset="0.900" stop-color="#fe8100"/><stop offset="0.933" stop-color="#ff7c00"/><stop offset="0.967" stop-color="#ff7800"/><stop offset="1.000" stop-color="#ff7400"/></linearGradient>
<linearGradient id="g31" gradientUnits="userSpaceOnUse" x1="208" x2="328" y1="0" y2="0"><stop offset="0.000" stop-color="#00ffc6"/><stop offset="0.033" stop-color="#00ffc1"/><stop offset="0.067" stop-color="#11ffc0"/><stop offset="0.100" stop-color="#25ffbf"/><stop offset="0.133" stop-color="#39ffbe"/><stop offset="0.167" stop-color="#4dffbd"/><stop offset="0.200" stop-color="#61ffbc"/><stop offset="0.233" stop-color="#75ffbb"/><stop offset="0.267" stop-color="#89feba"/><stop offset="0.300" stop-color="#9cffb9"/><stop offset="0.333" stop-color="#aeffb8"/><stop offset="0.367" stop-color="#baffbb"/><stop offset="0.400" stop-color="#bfffb4"/><stop offset="0.433" stop-color="#cbffa4"/><stop offset="0.467" stop-color="#dbff92"/><stop offset="0.500" stop-color="#eaff7f"/><stop offset="0.533" stop-color="#f5fa6d"/><stop offset="0.567" stop-color="#f9ea5b"/><stop offset="0.600" stop-color="#fcda49"/><stop offset="0.633" stop-color="#ffcb37"/><stop offset="0.667" stop-color="#ffbb26"/><stop offset="0.700" stop-color="#ffac14"/><stop offset="0.733" stop-color="#ff9c03"/><stop offset="0.767" stop-color="#ff9200"/><stop offset="0.800" stop-color="#ff8b00"/><stop offset="0.833" stop-color="#ff8500"/><stop offset="0.867" stop-color="#ff7f00"/><stop offset="0.900" stop-color="#ff7a00"/><stop offset="0.933" stop-color="#ff7600"/><stop offset="0.967" stop-color="#ff7200"/><stop offset="1.000" stop-color="#ff6e00"/></linearGradient>
<linearGradient id="g32" gradientUnits="userSpaceOnUse" x1="208" x2="328" y1="0" y2="0"><stop offset="0.000" stop-color="#00ffcd"/><stop offset="0.033" stop-color="#00ffc9"/><stop offset="0.067" stop-color="#10ffc8"/><stop offset="0.100" stop-color="#24ffc7"/><stop offset="0.133" stop-color="#38ffc6"/><stop offset="0.167" stop-color="#4cffc5"/><stop offset="0.200" stop-color="#60ffc4"/><stop offset="0.233" stop-color="#74ffc2"/><stop offset="0.267" stop-color="#88ffc2"/><stop offset="0.300" stop-color="#9dffc1"/><stop offset="0.333" stop-color="#afffc0"/><stop offset="0.367" stop-color="#bfffc2"/><stop offset="0.400" stop-color="#c4ffbd"/><stop offset="0.433" stop-color="#d0ffae"/><stop offset="0.467" stop-color="#dfff9c"/><stop offset="0.500" stop-color="#eeff89"/><stop offset="0.533" stop-color="#f7f677"/><stop offset="0.567" stop-color="#fbe665"/><stop offset="0.600" stop-color="#fed653"/><stop offset="0.633" stop-color="#ffc641"/><stop offset="0.667" stop-color="#ffb72f"/><stop offset="0.700" stop-color="#ffa71e"/><stop offset="0.733" stop-color="#ff970c"/><stop offset="0.767" stop-color="#ff8a00"/><stop offset="0.800" stop-color="#ff8300"/><stop offset="0.833" stop-color="#ff7d00"/><stop offset="0.867" stop-color="#ff7700"/><stop offset="0.900" stop-color="#ff7300"/><stop offset="0.933" stop-color="#ff6e00"/><stop offset="0.967" stop-color="#fe6b00"/><stop offset="1.000" stop-color="#ff6700"/></linearGradient>
<linearGradient id="g33" gradientUnits="userSpaceOnUse" x1="208" x2="328" y1="0" y2="0"><stop offset="0.000" stop-color="#00fdd3"/><stop offset="0.033" stop-color="#00ffd1"/><stop offset="0.067" stop-color="#0fffcf"/><stop offset="0.100" stop-color="#22ffce"/><stop offset="0.133" stop-color="#36ffcd"/><stop offset="0.167" stop-color="#4affcd"/><stop offset="0.200" stop-color="#5fffcc"/><stop offset="0.233" stop-color="#73ffca"/><stop offset="0.267" stop-color="#88ffc9"/><stop offset="0.300" stop-color="#9cffc8"/><stop offset="0.333" stop-color="#b0ffc7"/><stop offset="0.367" stop-color="#c2ffc8"/><stop offset="0.400" stop-color="#caffc7"/><stop offset="0.433" stop-color="#d4ffb9"/><stop offset="0.467" stop-color="#e4fea6"/><stop offset="0.500" stop-color="#f3ff93"/><stop offset="0.533" stop-color="#f9f181"/><stop offset="0.567" stop-color="#fde16e"/><stop offset="0.600" stop-color="#ffd15c"/><stop offset="0.633" stop-color="#ffc24a"/><stop offset="0.667" stop-color="#ffb238"/><stop offset="0.700" stop-color="#ffa227"/><stop offset="0.733" stop-color="#ff9215"/><stop offset="0.767" stop-color="#ff8304"/><stop offset="0.800" stop-color="#fe7a00"/><stop offset="0.833" stop-color="#ff7400"/><stop offset="0.867" stop-color="#ff6f00"/><stop offset="0.900" stop-color="#ff6b00"/><stop offset="0.933" stop-color="#ff6600"/><stop offset="0.967" stop-color="#ff6200"/><stop offset="1.000" stop-color="#ff5e00"/></linearGradient>
<linearGradient id="g34" gradientUnits="userSpaceOnUse" x1="208" x2="328" y1="0" y2="0"><stop offset="0.000" stop-color="#00fad8"/><stop offset="0.033" stop-color="#00fbd6"/><stop offset="0.067" stop-color="#0dfdd6"/><stop offset="0.100" stop-color="#21ffd6"/><stop offset="0.133" stop-color="#35ffd5"/><stop offset="0.167" stop-color="#49ffd4"/><stop offset="0.200" stop-color="#5dffd3"/><stop offset="0.233" stop-color="#72ffd2"/><stop offset="0.267" stop-color="#87ffd1"/><stop offset="0.300" stop-color="#9cffd0"/><stop offset="0.333" stop-color="#b0ffcf"/><stop offset="0.367" stop-color="#c4ffce"/><stop offset="0.400" stop-color="#d0ffcf"/><stop offset="0.433" stop-color="#d9ffc3"/><stop offset="0.467" stop-color="#e9ffb0"/><stop offset="0.500" stop-color="#f7fe9d"/><stop offset="0.533" stop-color="#fbed8a"/><stop offset="0.567" stop-color="#ffdd78"/><stop offset="0.600" stop-color="#ffcd66"/><stop offset="0.633" stop-color="#ffbd54"/><stop offset="0.667" stop-color="#ffac42"/><stop offset="0.700" stop-color="#ff9d30"/><stop offset="0.733" stop-color="#ff8d1f"/><stop offset="0.767" stop-color="#ff7d0d"/><stop offset="0.800" stop-color="#ff7000"/><stop offset="0.833" stop-color="#fe6b00"/><stop offset="0.867" stop-color="#fe6500"/><stop offset="0.900" stop-color="#ff6100"/><stop offset="0.933" stop-color="#ff5d00"/><stop offset="0.967" stop-color="#ff5900"/><stop offset="1.000" stop-color="#ff5600"/></linearGradient>
<linearGradient id="g35" gradientUnits="userSpaceOnUse" x1="208" x2="328" y1="0" y2="0"><stop offset="0.000" stop-color="#00f7dd"/><stop offset="0.033" stop-color="#00f8db"/><stop offset="0.067" stop-color="#0bfadb"/><stop offset="0.100" stop-color="#1ffcdc"/><stop offset="0.133" stop-color="#34fedc"/><stop offset="0.167" stop-color="#48ffdc"/><stop offset="0.200" stop-color="#5cfedb"/><stop offset="0.233" stop-color="#70ffda"/><stop offset="0.267" stop-color="#85fed9"/><stop offset="0.300" stop-color="#9bffd8"/><stop offset="0.333" stop-color="#b0ffd7"/><stop offset="0.367" stop-color="#c5ffd6"/><stop offset="0.400" stop-color="#d6ffd8"/><stop offset="0.433" stop-color="#ddffce"/><stop offset="0.467" stop-color="#edfebb"/><stop offset="0.500" stop-color="#f9f9a7"/><stop offset="0.533" stop-color="#fde994"/><stop offset="0.567" stop-color="#ffd882"/><stop offset="0.600" stop-color="#ffc86f"/><stop offset="0.633" stop-color="#ffb75d"/><stop offset="0.667" stop-color="#ffa74b"/><stop offset="0.700" stop-color="#ff9739"/><stop offset="0.733" stop-color="#ff8828"/><stop offset="0.767" stop-color="#ff7816"/><stop offset="0.800" stop-color="#ff6805"/><stop offset="0.833" stop-color="#ff5f00"/><stop offset="0.867" stop-color="#ff5b00"/><stop offset="0.900" stop-color="#ff5600"/><stop offset="0.933" stop-color="#ff5300"/><stop offset="0.967" stop-color="#ff5000"/><stop offset="1.000" stop-color="#ff4e00"/></linearGradient>
<linearGradient id="g36" gradientUnits="userSpaceOnUse" x1="208" x2="328" y1="0" y2="0"><stop offset="0.000" stop-color="#00f4e2"/><stop offset="0.033" stop-color="#00f5e0"/><stop offset="0.067" stop-color="#0af6e0"/><stop offset="0.100" stop-color="#1df8e1"/><stop offset="0.133" stop-color="#32fae1"/><stop offset="0.167" stop-color="#46fce2"/><stop offset="0.200" stop-color="#5bfee3"/><stop offset="0.233" stop-color="#6fffe2"/><stop offset="0.267" stop-color="#84ffe2"/><stop offset="0.300" stop-color="#99ffe1"/><stop offset="0.333" stop-color="#afffdf"/><stop offset="0.367" stop-color="#c5ffde"/><stop offset="0.400" stop-color="#d9fedd"/><stop offset="0.433" stop-color="#e2ffd9"/><stop offset="0.467" stop-color="#f2ffc6"/><stop offset="0.500" stop-color="#fcf5b2"/><stop offset="0.533" stop-color="#ffe49e"/><stop offset="0.567" stop-color="#ffd38b"/><stop offset="0.600" stop-color="#ffc279"/><stop offset="0.633" stop-color="#ffb267"/><stop offset="0.667" stop-color="#ffa254"/><stop offset="0.700" stop-color="#ff9243"/><stop offset="0.733" stop-color="#ff8131"/><stop offset="0.767" stop-color="#ff711f"/><stop offset="0.800" stop-color="#ff610e"/><stop offset="0.833" stop-color="#ff5300"/><stop offset="0.867" stop-color="#ff4f00"/><stop offset="0.900" stop-color="#ff4d00"/><stop offset="0.933" stop-color="#ff4b00"/><stop offset="0.967" stop-color="#ff4a00"/><stop offset="1.000" stop-color="#ff4900"/></linearGradient>
<linearGradient id="g37" gradientUnits="userSpaceOnUse" x1="208" x2="328" y1="0" y2="0"><stop offset="0.000" stop-color="#00f1e6"/><stop offset="0.033" stop-color="#00f1e5"/><stop offset="0.067" stop-color="#08f2e5"/><stop offset="0.100" stop-color="#1bf4e6"/><stop offset="0.133" stop-color="#30f6e6"/><stop offset="0.167" stop-color="#44f8e7"/><stop offset="0.200" stop-color="#58fae8"/><stop offset="0.233" stop-color="#6dfce9"/><stop offset="0.267" stop-color="#83fee9"/><stop offset="0.300" stop-color="#98ffe9"/><stop offset="0.333" stop-color="#aeffe8"/><stop offset="0.367" stop-color="#c4ffe7"/><stop offset="0.400" stop-color="#daffe6"/><stop offset="0.433" stop-color="#e7ffe4"/><stop offset="0.467" stop-color="#f7ffd0"/><stop offset="0.500" stop-color="#fef0bc"/><stop offset="0.533" stop-color="#fedfa8"/><stop offset="0.567" stop-color="#ffce95"/><stop offset="0.600" stop-color="#ffbd83"/><stop offset="0.633" stop-color="#ffac70"/><stop offset="0.667" stop-color="#ff9b5e"/><stop offset="0.700" stop-color="#ff8b4c"/><stop offset="0.733" stop-color="#ff7a3a"/><stop offset="0.767" stop-color="#ff6b29"/><stop offset="0.800" stop-color="#ff5d17"/><stop offset="0.833" stop-color="#ff4e06"/><stop offset="0.867" stop-color="#ff4800"/><stop offset="0.900" stop-color="#ff4600"/><stop offset="0.933" stop-color="#ff4500"/><stop offset="0.967" stop-color="#ff4400"/><stop offset="1.000" stop-color="#ff4300"/></linearGradient>
<linearGradient id="g38" gradientUnits="userSpaceOnUse" x1="208" x2="328" y1="0" y2="0"><stop offset="0.000" stop-color="#00eeeb"/><stop offset="0.033" stop-color="#00eeea"/><stop offset="0.067" stop-color="#06efea"/><stop offset="0.100" stop-color="#1af1eb"/><stop offset="0.133" stop-color="#2ef3ec"/><stop offset="0.167" stop-color="#42f4ec"/><stop offset="0.200" stop-color="#56f6ed"/><stop offset="0.233" stop-color="#6bf8ee"/><stop offset="0.267" stop-color="#80faef"/><stop offset="0.300" stop-color="#96fcf0"/><stop offset="0.333" stop-color="#acfef0"/><stop offset="0.367" stop-color="#c2ffef"/><stop offset="0.400" stop-color="#dafeee"/><stop offset="0.433" stop-color="#eeffee"/><stop offset="0.467" stop-color="#fcfddc"/><stop offset="0.500" stop-color="#ffebc7"/><stop offset="0.533" stop-color="#ffd9b3"/><stop offset="0.567" stop-color="#ffc89f"/><stop offset="0.600" stop-color="#ffb68c"/><stop offset="0.633" stop-color="#ffa57a"/><stop offset="0.667" stop-color="#ff9568"/><stop offset="0.700" stop-color="#ff8755"/><stop offset="0.733" stop-color="#ff7844"/><stop offset="0.767" stop-color="#ff6a32"/><stop offset="0.800" stop-color="#ff5b20"/><stop offset="0.833" stop-color="#ff4d0f"/><stop offset="0.867" stop-color="#ff4000"/><stop offset="0.900" stop-color="#fe3f00"/><stop offset="0.933" stop-color="#fe3e00"/><stop offset="0.967" stop-color="#fe3d00"/><stop offset="1.000" stop-color="#ff3c00"/></linearGradient>
<linearGradient id="g39" gradientUnits="userSpaceOnUse" x1="208" x2="328" y1="0" y2="0"><stop offset="0.000" stop-color="#00ebef"/><stop offset="0.033" stop-color="#00ebef"/><stop offset="0.067" stop-color="#04ebef"/><stop offset="0.100" stop-color="#18edf0"/><stop offset="0.133" stop-color="#2ceff1"/><stop offset="0.167" stop-color="#40f1f2"/><stop offset="0.200" stop-color="#54f3f2"/><stop offset="0.233" stop-color="#69f4f3"/><stop offset="0.267" stop-color="#7ef6f4"/><stop offset="0.300" stop-color="#94f8f5"/><stop offset="0.333" stop-color="#aafaf6"/><stop offset="0.367" stop-color="#c1fcf7"/><stop offset="0.400" stop-color="#d8fff8"/><stop offset="0.433" stop-color="#f1fff6"/><stop offset="0.467" stop-color="#fff8e7"/><stop offset="0.500" stop-color="#ffe5d2"/><stop offset="0.533" stop-color="#ffd2bd"/><stop offset="0.567" stop-color="#ffc2aa"/><stop offset="0.600" stop-color="#ffb296"/><stop offset="0.633" stop-color="#ffa384"/><stop offset="0.667" stop-color="#ff9471"/><stop offset="0.700" stop-color="#ff855f"/><stop offset="0.733" stop-color="#ff764d"/><stop offset="0.767" stop-color="#ff673b"/><stop offset="0.800" stop-color="#ff582a"/><stop offset="0.833" stop-color="#ff4a18"/><stop offset="0.867" stop-color="#ff3c07"/><stop offset="0.900" stop-color="#ff3500"/><stop offset="0.933" stop-color="#ff3500"/><stop offset="0.967" stop-color="#ff3400"/><stop offset="1.000" stop-color="#ff3400"/></linearGradient>
<linearGradient id="g40" gradientUnits="userSpaceOnUse" x1="208" x2="328" y1="0" y2="0"><stop offset="0.000" stop-color="#00e8f4"/><stop offset="0.033" stop-color="#00e8f4"/><stop offset="0.067" stop-color="#02e8f4"/><stop offset="0.100" stop-color="#16e9f5"/><stop offset="0.133" stop-color="#2aebf6"/><stop offset="0.167" stop-color="#3eedf7"/><stop offset="0.200" stop-color="#52eff8"/><stop offset="0.233" stop-color="#67f1f9"/><stop offset="0.267" stop-color="#7cf2fa"/><stop offset="0.300" stop-color="#92f4fb"/><stop offset="0.333" stop-color="#a8f6fc"/><stop offset="0.367" stop-color="#bef8fd"/><stop offset="0.400" stop-color="#d6fafe"/><stop offset="0.433" stop-color="#effcff"/><stop offset="0.467" stop-color="#fef2f3"/><stop offset="0.500" stop-color="#ffe0dd"/><stop offset="0.533" stop-color="#ffcec8"/><stop offset="0.567" stop-color="#ffbeb4"/><stop offset="0.600" stop-color="#ffaea0"/><stop offset="0.633" stop-color="#ff9e8d"/><stop offset="0.667" stop-color="#ff8f7b"/><stop offset="0.700" stop-color="#ff8069"/><stop offset="0.733" stop-color="#ff7156"/><stop offset="0.767" stop-color="#ff6245"/><stop offset="0.800" stop-color="#ff5433"/><stop offset="0.833" stop-color="#ff4521"/><stop offset="0.867" stop-color="#ff3710"/><stop offset="0.900" stop-color="#ff2900"/><stop offset="0.933" stop-color="#ff2900"/><stop offset="0.967" stop-color="#ff2900"/><stop offset="1.000" stop-color="#ff2a00"/></linearGradient>
<linearGradient id="g41" gradientUnits="userSpaceOnUse" x1="208" x2="328" y1="0" y2="0"><stop offset="0.000" stop-color="#00e5f8"/><stop offset="0.033" stop-color="#00e4f9"/><stop offset="0.067" stop-color="#00e4f9"/><stop offset="0.100" stop-color="#14e6fa"/><stop offset="0.133" stop-color="#28e8fb"/><stop offset="0.167" stop-color="#3ce9fc"/><stop offset="0.200" stop-color="#50ebfd"/><stop offset="0.233" stop-color="#65edfe"/><stop offset="0.267" stop-color="#7aeeff"/><stop offset="0.300" stop-color="#8ff0ff"/><stop offset="0.333" stop-color="#a5f1ff"/><stop offset="0.367" stop-color="#bcf2ff"/><stop offset="0.400" stop-color="#d3f3ff"/><stop offset="0.433" stop-color="#ebefff"/><stop offset="0.467" stop-color="#ffe2fc"/><stop offset="0.500" stop-color="#ffd4eb"/><stop offset="0.533" stop-color="#ffc7d4"/><stop offset="0.567" stop-color="#ffbabf"/><stop offset="0.600" stop-color="#ffafab"/><stop offset="0.633" stop-color="#ff9f97"/><stop offset="0.667" stop-color="#ff8f85"/><stop offset="0.700" stop-color="#ff7e72"/><stop offset="0.733" stop-color="#ff6e60"/><stop offset="0.767" stop-color="#ff5e4e"/><stop offset="0.800" stop-color="#ff4f3c"/><stop offset="0.833" stop-color="#ff3f2b"/><stop offset="0.867" stop-color="#ff2f19"/><stop offset="0.900" stop-color="#ff2108"/><stop offset="0.933" stop-color="#ff1a00"/><stop offset="0.967" stop-color="#ff1c00"/><stop offset="1.000" stop-color="#ff1d00"/></linearGradient>
<linearGradient id="g42" gradientUnits="userSpaceOnUse" x1="208" x2="328" y1="0" y2="0"><stop offset="0.000" stop-color="#00e2fc"/><stop offset="0.033" stop-color="#00e1fd"/><stop offset="0.067" stop-color="#00e1fe"/><stop offset="0.100" stop-color="#12e2ff"/><stop offset="0.133" stop-color="#26e3ff"/><stop offset="0.167" stop-color="#3ae4ff"/><stop offset="0.200" stop-color="#4ee5ff"/><stop offset="0.233" stop-color="#63e7ff"/><stop offset="0.267" stop-color="#77e8ff"/><stop offset="0.300" stop-color="#8de9ff"/><stop offset="0.333" stop-color="#a2eaff"/><stop offset="0.367" stop-color="#b9ebff"/><stop offset="0.400" stop-color="#cfeaff"/><stop offset="0.433" stop-color="#e9e0ff"/><stop offset="0.467" stop-color="#fbd2ff"/><stop offset="0.500" stop-color="#ffc5f2"/><stop offset="0.533" stop-color="#ffb8e2"/><stop offset="0.567" stop-color="#ffaccd"/><stop offset="0.600" stop-color="#ff9fb8"/><stop offset="0.633" stop-color="#ff93a4"/><stop offset="0.667" stop-color="#ff8790"/><stop offset="0.700" stop-color="#ff7b7c"/><stop offset="0.733" stop-color="#ff726a"/><stop offset="0.767" stop-color="#ff6357"/><stop offset="0.800" stop-color="#ff5446"/><stop offset="0.833" stop-color="#ff4434"/><stop offset="0.867" stop-color="#ff3522"/><stop offset="0.900" stop-color="#ff2611"/><stop offset="0.933" stop-color="#ff1600"/><stop offset="0.967" stop-color="#ff1700"/><stop offset="1.000" stop-color="#ff1700"/></linearGradient>
<linearGradient id="g43" gradientUnits="userSpaceOnUse" x1="208" x2="328" y1="0" y2="0"><stop offset="0.000" stop-color="#00deff"/><stop offset="0.033" stop-color="#00ddff"/><stop offset="0.067" stop-color="#00dbff"/><stop offset="0.100" stop-color="#0fdcff"/><stop offset="0.133" stop-color="#23ddff"/><stop offset="0.167" stop-color="#37deff"/><stop offset="0.200" stop-color="#4bdfff"/><stop offset="0.233" stop-color="#60e0ff"/><stop offset="0.267" stop-color="#75e1ff"/><stop offset="0.300" stop-color="#8ae2ff"/><stop offset="0.333" stop-color="#9fe3ff"/><stop offset="0.367" stop-color="#b5e2ff"/><stop offset="0.400" stop-color="#cadbff"/><stop offset="0.433" stop-color="#e4d1ff"/><stop offset="0.467" stop-color="#f5c3ff"/><stop offset="0.500" stop-color="#ffb7f7"/><stop offset="0.533" stop-color="#ffaae8"/><stop offset="0.567" stop-color="#ff9eda"/><stop offset="0.600" stop-color="#ff91c5"/><stop offset="0.633" stop-color="#fe85b1"/><stop offset="0.667" stop-color="#ff799d"/><stop offset="0.700" stop-color="#ff6e89"/><stop offset="0.733" stop-color="#ff6276"/><stop offset="0.767" stop-color="#ff5663"/><stop offset="0.800" stop-color="#ff4b50"/><stop offset="0.833" stop-color="#ff433d"/><stop offset="0.867" stop-color="#ff382c"/><stop offset="0.900" stop-color="#ff291a"/><stop offset="0.933" stop-color="#ff1b09"/><stop offset="0.967" stop-color="#ff1300"/><stop offset="1.000" stop-color="#ff1400"/></linearGradient>
<linearGradient id="g44" gradientUnits="userSpaceOnUse" x1="208" x2="328" y1="0" y2="0"><stop offset="0.000" stop-color="#00d9ff"/><stop offset="0.033" stop-color="#00d8ff"/><stop offset="0.067" stop-color="#00d6ff"/><stop offset="0.100" stop-color="#0dd6ff"/><stop offset="0.133" stop-color="#20d7ff"/><stop offset="0.167" stop-color="#34d8ff"/><stop offset="0.200" stop-color="#49d9ff"/><stop offset="0.233" stop-color="#5ddaff"/><stop offset="0.267" stop-color="#72dbff"/><stop offset="0.300" stop-color="#87dbff"/><stop offset="0.333" stop-color="#9cdaff"/><stop offset="0.367" stop-color="#b1d7ff"/><stop offset="0.400" stop-color="#c5c8ff"/><stop offset="0.433" stop-color="#dfc2fe"/><stop offset="0.467" stop-color="#f0b5fe"/><stop offset="0.500" stop-color="#ffa8fd"/><stop offset="0.533" stop-color="#ff9cee"/><stop offset="0.567" stop-color="#ff90df"/><stop offset="0.600" stop-color="#ff84d1"/><stop offset="0.633" stop-color="#ff78bd"/><stop offset="0.667" stop-color="#ff6ca9"/><stop offset="0.700" stop-color="#ff6096"/><stop offset="0.733" stop-color="#ff5582"/><stop offset="0.767" stop-color="#ff496f"/><stop offset="0.800" stop-color="#ff3e5c"/><stop offset="0.833" stop-color="#ff3349"/><stop offset="0.867" stop-color="#ff2737"/><stop offset="0.900" stop-color="#ff1c24"/><stop offset="0.933" stop-color="#ff1112"/><stop offset="0.967" stop-color="#ff0b01"/><stop offset="1.000" stop-color="#ff0e00"/></linearGradient>
<linearGradient id="g45" gradientUnits="userSpaceOnUse" x1="208" x2="328" y1="0" y2="0"><stop offset="0.000" stop-color="#00d4ff"/><stop offset="0.033" stop-color="#00d2ff"/><stop offset="0.067" stop-color="#00d0ff"/><stop offset="0.100" stop-color="#0acfff"/><stop offset="0.133" stop-color="#1ed0ff"/><stop offset="0.167" stop-color="#32d1ff"/><stop offset="0.200" stop-color="#46d2ff"/><stop offset="0.233" stop-color="#5ad3ff"/><stop offset="0.267" stop-color="#6fd3ff"/><stop offset="0.300" stop-color="#83d2ff"/><stop offset="0.333" stop-color="#98d1ff"/><stop offset="0.367" stop-color="#acc9ff"/><stop offset="0.400" stop-color="#c3bdff"/><stop offset="0.433" stop-color="#dab3ff"/><stop offset="0.467" stop-color="#eba7ff"/><stop offset="0.500" stop-color="#fb9aff"/><stop offset="0.533" stop-color="#ff8ef3"/><stop offset="0.567" stop-color="#ff82e5"/><stop offset="0.600" stop-color="#ff76d6"/><stop offset="0.633" stop-color="#ff6bc9"/><stop offset="0.667" stop-color="#ff5fb6"/><stop offset="0.700" stop-color="#ff53a2"/><stop offset="0.733" stop-color="#ff488f"/><stop offset="0.767" stop-color="#ff3c7c"/><stop offset="0.800" stop-color="#ff3169"/><stop offset="0.833" stop-color="#ff2656"/><stop offset="0.867" stop-color="#ff1b43"/><stop offset="0.900" stop-color="#ff0f31"/><stop offset="0.933" stop-color="#ff041e"/><stop offset="0.967" stop-color="#ff0012"/><stop offset="1.000" stop-color="#ff000b"/></linearGradient>
<linearGradient id="g46" gradientUnits="userSpaceOnUse" x1="208" x2="328" y1="0" y2="0"><stop offset="0.000" stop-color="#00d0ff"/><stop offset="0.033" stop-color="#00cdff"/><stop offset="0.067" stop-color="#00cbff"/><stop offset="0.100" stop-color="#07c9ff"/><stop offset="0.133" stop-color="#1bcaff"/><stop offset="0.167" stop-color="#2fcbff"/><stop offset="0.200" stop-color="#43ccff"/><stop offset="0.233" stop-color="#57ccff"/><stop offset="0.267" stop-color="#6bcbff"/><stop offset="0.300" stop-color="#80c9ff"/><stop offset="0.333" stop-color="#94c4fe"/><stop offset="0.367" stop-color="#a7b6fe"/><stop offset="0.400" stop-color="#c7b2ff"/><stop offset="0.433" stop-color="#d5a5fe"/><stop offset="0.467" stop-color="#e699ff"/><stop offset="0.500" stop-color="#f68dfe"/><stop offset="0.533" stop-color="#ff81f8"/><stop offset="0.567" stop-color="#ff75ea"/><stop offset="0.600" stop-color="#fe69dc"/><stop offset="0.633" stop-color="#ff5dce"/><stop offset="0.667" stop-color="#ff52c0"/><stop offset="0.700" stop-color="#ff46ae"/><stop offset="0.733" stop-color="#ff3b9b"/><stop offset="0.767" stop-color="#ff3088"/><stop offset="0.800" stop-color="#ff2475"/><stop offset="0.833" stop-color="#ff1962"/><stop offset="0.867" stop-color="#ff0e4f"/><stop offset="0.900" stop-color="#ff033d"/><stop offset="0.933" stop-color="#ff0031"/><stop offset="0.967" stop-color="#ff0028"/><stop offset="1.000" stop-color="#ff0020"/></linearGradient>
<linearGradient id="g47" gradientUnits="userSpaceOnUse" x1="208" x2="328" y1="0" y2="0"><stop offset="0.000" stop-color="#00cbff"/><stop offset="0.033" stop-color="#00c8ff"/><stop offset="0.067" stop-color="#00c5ff"/><stop offset="0.100" stop-color="#05c3ff"/><stop offset="0.133" stop-color="#19c4ff"/><stop offset="0.167" stop-color="#2dc5fe"/><stop offset="0.200" stop-color="#40c5ff"/><stop offset="0.233" stop-color="#54c3ff"/><stop offset="0.267" stop-color="#68c2ff"/><stop offset="0.300" stop-color="#7cbfff"/><stop offset="0.333" stop-color="#90b7ff"/><stop offset="0.367" stop-color="#a1a4ff"/><stop offset="0.400" stop-color="#c3a3ff"/><stop offset="0.433" stop-color="#d197ff"/><stop offset="0.467" stop-color="#e18bff"/><stop offset="0.500" stop-color="#f17fff"/><stop offset="0.533" stop-color="#ff73fd"/><stop offset="0.567" stop-color="#ff67ee"/><stop offset="0.600" stop-color="#ff5ce1"/><stop offset="0.633" stop-color="#ff50d3"/><stop offset="0.667" stop-color="#ff45c5"/><stop offset="0.700" stop-color="#fe39b8"/><stop offset="0.733" stop-color="#ff2ea7"/><stop offset="0.767" stop-color="#ff2394"/><stop offset="0.800" stop-color="#ff1881"/><stop offset="0.833" stop-color="#ff0d6e"/><stop offset="0.867" stop-color="#ff015b"/><stop offset="0.900" stop-color="#ff004f"/><stop offset="0.933" stop-color="#ff0045"/><stop offset="0.967" stop-color="#ff003c"/><stop offset="1.000" stop-color="#ff0033"/></linearGradient>
<linearGradient id="g48" gradientUnits="userSpaceOnUse" x1="208" x2="328" y1="0" y2="0"><stop offset="0.000" stop-color="#00c7ff"/><stop offset="0.033" stop-color="#00c4fe"/><stop offset="0.067" stop-color="#00c0ff"/><stop offset="0.100" stop-color="#02bdfe"/><stop offset="0.133" stop-color="#16beff"/><stop offset="0.167" stop-color="#29bdff"/><stop offset="0.200" stop-color="#3dbcff"/><stop offset="0.233" stop-color="#51bbff"/><stop offset="0.267" stop-color="#64baff"/><stop offset="0.300" stop-color="#78b3ff"/><stop offset="0.333" stop-color="#8ba5ff"/><stop offset="0.367" stop-color="#a29aff"/><stop offset="0.400" stop-color="#be96ff"/><stop offset="0.433" stop-color="#cc89ff"/><stop offset="0.467" stop-color="#dc7eff"/><stop offset="0.500" stop-color="#ec72ff"/><stop offset="0.533" stop-color="#fc66ff"/><stop offset="0.567" stop-color="#ff5af3"/><stop offset="0.600" stop-color="#ff4fe5"/><stop offset="0.633" stop-color="#ff43d8"/><stop offset="0.667" stop-color="#ff38ca"/><stop offset="0.700" stop-color="#ff2dbd"/><stop offset="0.733" stop-color="#ff21b0"/><stop offset="0.767" stop-color="#ff169f"/><stop offset="0.800" stop-color="#ff0b8c"/><stop offset="0.833" stop-color="#ff007a"/><stop offset="0.867" stop-color="#ff006d"/><stop offset="0.900" stop-color="#ff0062"/><stop offset="0.933" stop-color="#ff0057"/><stop offset="0.967" stop-color="#ff004e"/><stop offset="1.000" stop-color="#ff0045"/></linearGradient>
<linearGradient id="g49" gradientUnits="userSpaceOnUse" x1="208" x2="328" y1="0" y2="0"><stop offset="0.000" stop-color="#00c2ff"/><stop offset="0.033" stop-color="#00bfff"/><stop offset="0.067" stop-color="#00bbff"/><stop offset="0.100" stop-color="#00b7ff"/><stop offset="0.133" stop-color="#13b6ff"/><stop offset="0.167" stop-color="#26b5ff"/><stop offset="0.200" stop-color="#3ab4ff"/><stop offset="0.233" stop-color="#4db3ff"/><stop offset="0.267" stop-color="#61aeff"/><stop offset="0.300" stop-color="#74a5ff"/><stop offset="0.333" stop-color="#8595ff"/><stop offset="0.367" stop-color="#a193ff"/><stop offset="0.400" stop-color="#b988ff"/><stop offset="0.433" stop-color="#c77cff"/><stop offset="0.467" stop-color="#d770ff"/><stop offset="0.500" stop-color="#e764ff"/><stop offset="0.533" stop-color="#f659ff"/><stop offset="0.567" stop-color="#ff4df8"/><stop offset="0.600" stop-color="#fe42ea"/><stop offset="0.633" stop-color="#ff36dd"/><stop offset="0.667" stop-color="#fe2bcf"/><stop offset="0.700" stop-color="#ff20c2"/><stop offset="0.733" stop-color="#ff15b5"/><stop offset="0.767" stop-color="#ff0aa8"/><stop offset="0.800" stop-color="#ff0098"/><stop offset="0.833" stop-color="#ff008b"/><stop offset="0.867" stop-color="#ff007e"/><stop offset="0.900" stop-color="#ff0073"/><stop offset="0.933" stop-color="#ff0068"/><stop offset="0.967" stop-color="#ff005e"/><stop offset="1.000" stop-color="#ff0055"/></linearGradient>
<linearGradient id="g50" gradientUnits="userSpaceOnUse" x1="208" x2="328" y1="0" y2="0"><stop offset="0.000" stop-color="#00beff"/><stop offset="0.033" stop-color="#00baff"/><stop offset="0.067" stop-color="#00b6ff"/><stop offset="0.100" stop-color="#00b0ff"/><stop offset="0.133" stop-color="#10aeff"/><stop offset="0.167" stop-color="#23adff"/><stop offset="0.200" stop-color="#36abff"/><stop offset="0.233" stop-color="#49a9ff"/><stop offset="0.267" stop-color="#5ca1ff"/><stop offset="0.300" stop-color="#6f94ff"/><stop offset="0.333" stop-color="#7f81ff"/><stop offset="0.367" stop-color="#a786ff"/><stop offset="0.400" stop-color="#b57aff"/><stop offset="0.433" stop-color="#c26fff"/><stop offset="0.467" stop-color="#d263ff"/><stop offset="0.500" stop-color="#e257ff"/><stop offset="0.533" stop-color="#f14cff"/><stop offset="0.567" stop-color="#ff40fc"/><stop offset="0.600" stop-color="#ff35ef"/><stop offset="0.633" stop-color="#ff2ae1"/><stop offset="0.667" stop-color="#ff1ed4"/><stop offset="0.700" stop-color="#ff13c7"/><stop offset="0.733" stop-color="#ff08ba"/><stop offset="0.767" stop-color="#ff00ad"/><stop offset="0.800" stop-color="#ff00a4"/><stop offset="0.833" stop-color="#ff009a"/><stop offset="0.867" stop-color="#ff008e"/><stop offset="0.900" stop-color="#ff0082"/><stop offset="0.933" stop-color="#ff0077"/><stop offset="0.967" stop-color="#ff006e"/><stop offset="1.000" stop-color="#ff0064"/></linearGradient>
<linearGradient id="g51" gradientUnits="userSpaceOnUse" x1="208" x2="328" y1="0" y2="0"><stop offset="0.000" stop-color="#00b9ff"/><stop offset="0.033" stop-color="#00b6ff"/><stop offset="0.067" stop-color="#00b0ff"/><stop offset="0.100" stop-color="#00a9ff"/><stop offset="0.133" stop-color="#0ca6ff"/><stop offset="0.167" stop-color="#1fa5ff"/><stop offset="0.200" stop-color="#33a3ff"/><stop offset="0.233" stop-color="#469cff"/><stop offset="0.267" stop-color="#5895ff"/><stop offset="0.300" stop-color="#6a83ff"/><stop offset="0.333" stop-color="#8079ff"/><stop offset="0.367" stop-color="#a379ff"/><stop offset="0.400" stop-color="#b06dff"/><stop offset="0.433" stop-color="#be61ff"/><stop offset="0.467" stop-color="#cd56ff"/><stop offset="0.500" stop-color="#dd4afe"/><stop offset="0.533" stop-color="#ed3fff"/><stop offset="0.567" stop-color="#fc34ff"/><stop offset="0.600" stop-color="#ff28f3"/><stop offset="0.633" stop-color="#ff1de6"/><stop offset="0.667" stop-color="#ff12d9"/><stop offset="0.700" stop-color="#ff07cb"/><stop offset="0.733" stop-color="#ff00bf"/><stop offset="0.767" stop-color="#ff00b6"/><stop offset="0.800" stop-color="#ff00ad"/><stop offset="0.833" stop-color="#ff00a5"/><stop offset="0.867" stop-color="#ff009c"/><stop offset="0.900" stop-color="#ff0090"/><stop offset="0.933" stop-color="#ff0085"/><stop offset="0.967" stop-color="#ff007b"/><stop offset="1.000" stop-color="#ff0072"/></linearGradient>
<linearGradient id="g52" gradientUnits="userSpaceOnUse" x1="208" x2="328" y1="0" y2="0"><stop offset="0.000" stop-color="#00b5ff"/><stop offset="0.033" stop-color="#00b0ff"/><stop offset="0.067" stop-color="#00a9ff"/><stop offset="0.100" stop-color="#00a2ff"/><stop offset="0.133" stop-color="#099eff"/><stop offset="0.167" stop-color="#1c9cff"/><stop offset="0.200" stop-color="#2f98ff"/><stop offset="0.233" stop-color="#4290ff"/><stop offset="0.267" stop-color="#5483ff"/><stop offset="0.300" stop-color="#6574ff"/><stop offset="0.333" stop-color="#7f71ff"/><stop offset="0.367" stop-color="#9e6cff"/><stop offset="0.400" stop-color="#ac60ff"/><stop offset="0.433" stop-color="#b954ff"/><stop offset="0.467" stop-color="#c949ff"/><stop offset="0.500" stop-color="#d83dff"/><stop offset="0.533" stop-color="#e832ff"/><stop offset="0.567" stop-color="#f727ff"/><stop offset="0.600" stop-color="#ff1cf8"/><stop offset="0.633" stop-color="#ff10eb"/><stop offset="0.667" stop-color="#ff05dd"/><stop offset="0.700" stop-color="#ff00d1"/><stop offset="0.733" stop-color="#fe00c7"/><stop offset="0.767" stop-color="#ff00bd"/><stop offset="0.800" stop-color="#ff00b4"/><stop offset="0.833" stop-color="#ff00ac"/><stop offset="0.867" stop-color="#ff00a5"/><stop offset="0.900" stop-color="#ff009d"/><stop offset="0.933" stop-color="#ff0092"/><stop offset="0.967" stop-color="#ff0088"/><stop offset="1.000" stop-color="#ff007f"/></linearGradient>
<linearGradient id="g53" gradientUnits="userSpaceOnUse" x1="208" x2="328" y1="0" y2="0"><stop offset="0.000" stop-color="#00afff"/><stop offset="0.033" stop-color="#00aaff"/><stop offset="0.067" stop-color="#00a3ff"/><stop offset="0.100" stop-color="#009cff"/><stop offset="0.133" stop-color="#0695ff"/><stop offset="0.167" stop-color="#1893ff"/><stop offset="0.200" stop-color="#2b8cfe"/><stop offset="0.233" stop-color="#3e84ff"/><stop offset="0.267" stop-color="#4f73ff"/><stop offset="0.300" stop-color="#5e5fff"/><stop offset="0.333" stop-color="#876aff"/><stop offset="0.367" stop-color="#9a5eff"/><stop offset="0.400" stop-color="#a753ff"/><stop offset="0.433" stop-color="#b547ff"/><stop offset="0.467" stop-color="#c43cff"/><stop offset="0.500" stop-color="#d431ff"/><stop offset="0.533" stop-color="#e325ff"/><stop offset="0.567" stop-color="#f21aff"/><stop offset="0.600" stop-color="#ff0ffc"/><stop offset="0.633" stop-color="#ff04ef"/><stop offset="0.667" stop-color="#ff00e3"/><stop offset="0.700" stop-color="#ff00d7"/><stop offset="0.733" stop-color="#ff00cd"/><stop offset="0.767" stop-color="#ff00c4"/><stop offset="0.800" stop-color="#ff00bb"/><stop offset="0.833" stop-color="#ff00b3"/><stop offset="0.867" stop-color="#ff00ac"/><stop offset="0.900" stop-color="#ff00a5"/><stop offset="0.933" stop-color="#ff009e"/><stop offset="0.967" stop-color="#ff0094"/><stop offset="1.000" stop-color="#ff008b"/></linearGradient>
<linearGradient id="g54" gradientUnits="userSpaceOnUse" x1="208" x2="328" y1="0" y2="0"><stop offset="0.000" stop-color="#00aaff"/><stop offset="0.033" stop-color="#00a4ff"/><stop offset="0.067" stop-color="#009dff"/><stop offset="0.100" stop-color="#0095ff"/><stop offset="0.133" stop-color="#028dff"/><stop offset="0.167" stop-color="#1587ff"/><stop offset="0.200" stop-color="#2780ff"/><stop offset="0.233" stop-color="#3973ff"/><stop offset="0.267" stop-color="#4a63ff"/><stop offset="0.300" stop-color="#6058ff"/><stop offset="0.333" stop-color="#885dff"/><stop offset="0.367" stop-color="#9651ff"/><stop offset="0.400" stop-color="#a346ff"/><stop offset="0.433" stop-color="#b03aff"/><stop offset="0.467" stop-color="#c02fff"/><stop offset="0.500" stop-color="#cf24ff"/><stop offset="0.533" stop-color="#de19ff"/><stop offset="0.567" stop-color="#ed0dff"/><stop offset="0.600" stop-color="#fc02ff"/><stop offset="0.633" stop-color="#ff00f4"/><stop offset="0.667" stop-color="#ff00e8"/><stop offset="0.700" stop-color="#ff00dd"/><stop offset="0.733" stop-color="#ff00d3"/><stop offset="0.767" stop-color="#ff00ca"/><stop offset="0.800" stop-color="#ff00c2"/><stop offset="0.833" stop-color="#ff00ba"/><stop offset="0.867" stop-color="#ff00b2"/><stop offset="0.900" stop-color="#ff00ac"/><stop offset="0.933" stop-color="#fe00a5"/><stop offset="0.967" stop-color="#ff009f"/><stop offset="1.000" stop-color="#ff0096"/></linearGradient>
<linearGradient id="g55" gradientUnits="userSpaceOnUse" x1="208" x2="328" y1="0" y2="0"><stop offset="0.000" stop-color="#00a5ff"/><stop offset="0.033" stop-color="#009fff"/><stop offset="0.067" stop-color="#0097ff"/><stop offset="0.100" stop-color="#008fff"/><stop offset="0.133" stop-color="#0082ff"/><stop offset="0.167" stop-color="#117bff"/><stop offset="0.200" stop-color="#2374ff"/><stop offset="0.233" stop-color="#3462ff"/><stop offset="0.267" stop-color="#4453ff"/><stop offset="0.300" stop-color="#6051ff"/><stop offset="0.333" stop-color="#8450ff"/><stop offset="0.367" stop-color="#9144ff"/><stop offset="0.400" stop-color="#9e39ff"/><stop offset="0.433" stop-color="#ac2eff"/><stop offset="0.467" stop-color="#bb22ff"/><stop offset="0.500" stop-color="#ca17ff"/><stop offset="0.533" stop-color="#d90cff"/><stop offset="0.567" stop-color="#e801ff"/><stop offset="0.600" stop-color="#f700ff"/><stop offset="0.633" stop-color="#ff00f8"/><stop offset="0.667" stop-color="#ff00ed"/><stop offset="0.700" stop-color="#ff00e2"/><stop offset="0.733" stop-color="#ff00d9"/><stop offset="0.767" stop-color="#ff00d0"/><stop offset="0.800" stop-color="#ff00c7"/><stop offset="0.833" stop-color="#ff00c0"/><stop offset="0.867" stop-color="#ff00b8"/><stop offset="0.900" stop-color="#ff00b2"/><stop offset="0.933" stop-color="#ff00ab"/><stop offset="0.967" stop-color="#ff00a5"/><stop offset="1.000" stop-color="#ff00a0"/></linearGradient>
<linearGradient id="g56" gradientUnits="userSpaceOnUse" x1="208" x2="328" y1="0" y2="0"><stop offset="0.000" stop-color="#00a0ff"/><stop offset="0.033" stop-color="#0099fe"/><stop offset="0.067" stop-color="#0092ff"/><stop offset="0.100" stop-color="#0088ff"/><stop offset="0.133" stop-color="#0079ff"/><stop offset="0.167" stop-color="#0d6fff"/><stop offset="0.200" stop-color="#1f63ff"/><stop offset="0.233" stop-color="#3053ff"/><stop offset="0.267" stop-color="#3e3eff"/><stop offset="0.300" stop-color="#5f4aff"/><stop offset="0.333" stop-color="#8043ff"/><stop offset="0.367" stop-color="#8d37ff"/><stop offset="0.400" stop-color="#9a2cff"/><stop offset="0.433" stop-color="#a721ff"/><stop offset="0.467" stop-color="#b716fe"/><stop offset="0.500" stop-color="#c60bff"/><stop offset="0.533" stop-color="#d500ff"/><stop offset="0.567" stop-color="#e500ff"/><stop offset="0.600" stop-color="#f300ff"/><stop offset="0.633" stop-color="#ff00fd"/><stop offset="0.667" stop-color="#ff00f1"/><stop offset="0.700" stop-color="#ff00e7"/><stop offset="0.733" stop-color="#ff00de"/><stop offset="0.767" stop-color="#ff00d5"/><stop offset="0.800" stop-color="#ff00cd"/><stop offset="0.833" stop-color="#ff00c5"/><stop offset="0.867" stop-color="#ff00be"/><stop offset="0.900" stop-color="#ff00b7"/><stop offset="0.933" stop-color="#ff00b1"/><stop offset="0.967" stop-color="#ff00ab"/><stop offset="1.000" stop-color="#fe00a6"/></linearGradient>
<linearGradient id="g57" gradientUnits="userSpaceOnUse" x1="208" x2="328" y1="0" y2="0"><stop offset="0.000" stop-color="#009bff"/><stop offset="0.033" stop-color="#0094ff"/><stop offset="0.067" stop-color="#008cff"/><stop offset="0.100" stop-color="#007fff"/><stop offset="0.133" stop-color="#0070ff"/><stop offset="0.167" stop-color="#0963ff"/><stop offset="0.200" stop-color="#1a52ff"/><stop offset="0.233" stop-color="#2a44ff"/><stop offset="0.267" stop-color="#4038ff"/><stop offset="0.300" stop-color="#6f41ff"/><stop offset="0.333" stop-color="#7c36ff"/><stop offset="0.367" stop-color="#892bff"/><stop offset="0.400" stop-color="#961fff"/><stop offset="0.433" stop-color="#a314ff"/><stop offset="0.467" stop-color="#b209ff"/><stop offset="0.500" stop-color="#c200ff"/><stop offset="0.533" stop-color="#d200ff"/><stop offset="0.567" stop-color="#e200ff"/><stop offset="0.600" stop-color="#f000ff"/><stop offset="0.633" stop-color="#fd00ff"/><stop offset="0.667" stop-color="#ff00f6"/><stop offset="0.700" stop-color="#ff00ec"/><stop offset="0.733" stop-color="#fe00e2"/><stop offset="0.767" stop-color="#ff00da"/><stop offset="0.800" stop-color="#ff00d2"/><stop offset="0.833" stop-color="#ff00ca"/><stop offset="0.867" stop-color="#ff00c3"/><stop offset="0.900" stop-color="#ff00bd"/><stop offset="0.933" stop-color="#ff00b6"/><stop offset="0.967" stop-color="#ff00b0"/><stop offset="1.000" stop-color="#fe00ab"/></linearGradient>
<linearGradient id="g58" gradientUnits="userSpaceOnUse" x1="208" x2="328" y1="0" y2="0"><stop offset="0.000" stop-color="#0096ff"/><stop offset="0.033" stop-color="#008fff"/><stop offset="0.067" stop-color="#0084ff"/><stop offset="0.100" stop-color="#0076ff"/><stop offset="0.133" stop-color="#0067ff"/><stop offset="0.167" stop-color="#0553ff"/><stop offset="0.200" stop-color="#1642ff"/><stop offset="0.233" stop-color="#2532ff"/><stop offset="0.267" stop-color="#4231ff"/><stop offset="0.300" stop-color="#6b34ff"/><stop offset="0.333" stop-color="#7829ff"/><stop offset="0.367" stop-color="#851eff"/><stop offset="0.400" stop-color="#9113ff"/><stop offset="0.433" stop-color="#9f08ff"/><stop offset="0.467" stop-color="#af00ff"/><stop offset="0.500" stop-color="#c000ff"/><stop offset="0.533" stop-color="#d000ff"/><stop offset="0.567" stop-color="#df00ff"/><stop offset="0.600" stop-color="#ec00ff"/><stop offset="0.633" stop-color="#f900ff"/><stop offset="0.667" stop-color="#ff00f9"/><stop offset="0.700" stop-color="#ff00f0"/><stop offset="0.733" stop-color="#ff00e7"/><stop offset="0.767" stop-color="#ff00de"/><stop offset="0.800" stop-color="#ff00d6"/><stop offset="0.833" stop-color="#ff00cf"/><stop offset="0.867" stop-color="#ff00c8"/><stop offset="0.900" stop-color="#ff00c1"/><stop offset="0.933" stop-color="#ff00bb"/><stop offset="0.967" stop-color="#ff00b5"/><stop offset="1.000" stop-color="#ff00b0"/></linearGradient>
<linearGradient id="g59" gradientUnits="userSpaceOnUse" x1="208" x2="328" y1="0" y2="0"><stop offset="0.000" stop-color="#0091fe"/><stop offset="0.033" stop-color="#0088ff"/><stop offset="0.067" stop-color="#007cff"/><stop offset="0.100" stop-color="#006efe"/><stop offset="0.133" stop-color="#005eff"/><stop offset="0.167" stop-color="#0043ff"/><stop offset="0.200" stop-color="#1034ff"/><stop offset="0.233" stop-color="#1f1fff"/><stop offset="0.267" stop-color="#3f2aff"/><stop offset="0.300" stop-color="#6728ff"/><stop offset="0.333" stop-color="#741cff"/><stop offset="0.367" stop-color="#8011ff"/><stop offset="0.400" stop-color="#8d06ff"/><stop offset="0.433" stop-color="#9c00ff"/><stop offset="0.467" stop-color="#ae00fe"/><stop offset="0.500" stop-color="#bf00ff"/><stop offset="0.533" stop-color="#ce00ff"/><stop offset="0.567" stop-color="#dc00ff"/><stop offset="0.600" stop-color="#e900ff"/><stop offset="0.633" stop-color="#f500ff"/><stop offset="0.667" stop-color="#ff00fd"/><stop offset="0.700" stop-color="#ff00f3"/><stop offset="0.733" stop-color="#ff00eb"/><stop offset="0.767" stop-color="#ff00e2"/><stop offset="0.800" stop-color="#ff00db"/><stop offset="0.833" stop-color="#ff00d3"/><stop offset="0.867" stop-color="#ff00cc"/><stop offset="0.900" stop-color="#ff00c6"/><stop offset="0.933" stop-color="#ff00c0"/><stop offset="0.967" stop-color="#ff00ba"/><stop offset="1.000" stop-color="#ff00b5"/></linearGradient>
<linearGradient id="g60" gradientUnits="userSpaceOnUse" x1="208" x2="328" y1="0" y2="0"><stop offset="0.000" stop-color="#008cff"/><stop offset="0.033" stop-color="#0081ff"/><stop offset="0.067" stop-color="#0074ff"/><stop offset="0.100" stop-color="#0066ff"/><stop offset="0.133" stop-color="#0051ff"/><stop offset="0.167" stop-color="#0035ff"/><stop offset="0.200" stop-color="#0b25ff"/><stop offset="0.233" stop-color="#2018ff"/><stop offset="0.267" stop-color="#4024ff"/><stop offset="0.300" stop-color="#631bff"/><stop offset="0.333" stop-color="#6f10ff"/><stop offset="0.367" stop-color="#7c05ff"/><stop offset="0.400" stop-color="#8b00ff"/><stop offset="0.433" stop-color="#9c00ff"/><stop offset="0.467" stop-color="#ae00ff"/><stop offset="0.500" stop-color="#be00ff"/><stop offset="0.533" stop-color="#cc00ff"/><stop offset="0.567" stop-color="#da00ff"/><stop offset="0.600" stop-color="#e600ff"/><stop offset="0.633" stop-color="#f200ff"/><stop offset="0.667" stop-color="#fd00ff"/><stop offset="0.700" stop-color="#ff00f7"/><stop offset="0.733" stop-color="#ff00ee"/><stop offset="0.767" stop-color="#ff00e6"/><stop offset="0.800" stop-color="#ff00de"/><stop offset="0.833" stop-color="#ff00d7"/><stop offset="0.867" stop-color="#ff00d1"/><stop offset="0.900" stop-color="#fe00ca"/><stop offset="0.933" stop-color="#ff00c4"/><stop offset="0.967" stop-color="#ff00bf"/><stop offset="1.000" stop-color="#ff00b9"/></linearGradient>
<linearGradient id="g61" gradientUnits="userSpaceOnUse" x1="208" x2="328" y1="0" y2="0"><stop offset="0.000" stop-color="#0085ff"/><stop offset="0.033" stop-color="#007aff"/><stop offset="0.067" stop-color="#006dff"/><stop offset="0.100" stop-color="#005eff"/><stop offset="0.133" stop-color="#0045ff"/><stop offset="0.167" stop-color="#002bff"/><stop offset="0.200" stop-color="#0612ff"/><stop offset="0.233" stop-color="#2312ff"/><stop offset="0.267" stop-color="#521aff"/><stop offset="0.300" stop-color="#5e0eff"/><stop offset="0.333" stop-color="#6b03ff"/><stop offset="0.367" stop-color="#7b00ff"/><stop offset="0.400" stop-color="#8c00ff"/><stop offset="0.433" stop-color="#9d00ff"/><stop offset="0.467" stop-color="#ad00ff"/><stop offset="0.500" stop-color="#bd00ff"/><stop offset="0.533" stop-color="#cb00ff"/><stop offset="0.567" stop-color="#d800ff"/><stop offset="0.600" stop-color="#e400ff"/><stop offset="0.633" stop-color="#ef00ff"/><stop offset="0.667" stop-color="#fa00ff"/><stop offset="0.700" stop-color="#ff00fa"/><stop offset="0.733" stop-color="#ff00f2"/><stop offset="0.767" stop-color="#ff00ea"/><stop offset="0.800" stop-color="#ff00e2"/><stop offset="0.833" stop-color="#ff00db"/><stop offset="0.867" stop-color="#ff00d5"/><stop offset="0.900" stop-color="#ff00ce"/><stop offset="0.933" stop-color="#ff00c8"/><stop offset="0.967" stop-color="#ff00c3"/><stop offset="1.000" stop-color="#ff00bd"/></linearGradient>
<linearGradient id="g62" gradientUnits="userSpaceOnUse" x1="208" x2="328" y1="0" y2="0"><stop offset="0.000" stop-color="#007eff"/><stop offset="0.033" stop-color="#0073ff"/><stop offset="0.067" stop-color="#0065ff"/><stop offset="0.100" stop-color="#0053ff"/><stop offset="0.133" stop-color="#003aff"/><stop offset="0.167" stop-color="#0021ff"/><stop offset="0.200" stop-color="#0100ff"/><stop offset="0.233" stop-color="#220bff"/><stop offset="0.267" stop-color="#4e0dff"/><stop offset="0.300" stop-color="#5a02ff"/><stop offset="0.333" stop-color="#6c00ff"/><stop offset="0.367" stop-color="#7d00ff"/><stop offset="0.400" stop-color="#8d00ff"/><stop offset="0.433" stop-color="#9d00ff"/><stop offset="0.467" stop-color="#ad00ff"/><stop offset="0.500" stop-color="#bc00ff"/><stop offset="0.533" stop-color="#c900ff"/><stop offset="0.567" stop-color="#d600ff"/><stop offset="0.600" stop-color="#e100ff"/><stop offset="0.633" stop-color="#ec00ff"/><stop offset="0.667" stop-color="#f700ff"/><stop offset="0.700" stop-color="#ff00fd"/><stop offset="0.733" stop-color="#ff00f5"/><stop offset="0.767" stop-color="#ff00ed"/><stop offset="0.800" stop-color="#ff00e6"/><stop offset="0.833" stop-color="#ff00df"/><stop offset="0.867" stop-color="#ff00d8"/><stop offset="0.900" stop-color="#ff00d2"/><stop offset="0.933" stop-color="#ff00cc"/><stop offset="0.967" stop-color="#ff00c7"/><stop offset="1.000" stop-color="#ff00c1"/></linearGradient>
<linearGradient id="g63" gradientUnits="userSpaceOnUse" x1="208" x2="328" y1="0" y2="0"><stop offset="0.000" stop-color="#0078ff"/><stop offset="0.033" stop-color="#006cff"/><stop offset="0.067" stop-color="#005eff"/><stop offset="0.100" stop-color="#0048ff"/><stop offset="0.133" stop-color="#002fff"/><stop offset="0.167" stop-color="#0018ff"/><stop offset="0.200" stop-color="#0800ff"/><stop offset="0.233" stop-color="#2005ff"/><stop offset="0.267" stop-color="#4a00ff"/><stop offset="0.300" stop-color="#5d00ff"/><stop offset="0.333" stop-color="#6f00ff"/><stop offset="0.367" stop-color="#7f00ff"/><stop offset="0.400" stop-color="#8e00ff"/><stop offset="0.433" stop-color="#9d00ff"/><stop offset="0.467" stop-color="#ad00ff"/><stop offset="0.500" stop-color="#bb00ff"/><stop offset="0.533" stop-color="#c800ff"/><stop offset="0.567" stop-color="#d400ff"/><stop offset="0.600" stop-color="#df00ff"/><stop offset="0.633" stop-color="#ea00ff"/><stop offset="0.667" stop-color="#f400ff"/><stop offset="0.700" stop-color="#fd00ff"/><stop offset="0.733" stop-color="#ff00f8"/><stop offset="0.767" stop-color="#ff00f0"/><stop offset="0.800" stop-color="#ff00e9"/><stop offset="0.833" stop-color="#ff00e2"/><stop offset="0.867" stop-color="#ff00dc"/><stop offset="0.900" stop-color="#ff00d6"/><stop offset="0.933" stop-color="#ff00d0"/><stop offset="0.967" stop-color="#ff00ca"/><stop offset="1.000" stop-color="#ff00c5"/></linearGradient>
<linearGradient id="g64" gradientUnits="userSpaceOnUse" x1="208" x2="328" y1="0" y2="0"><stop offset="0.000" stop-color="#0071ff"/><stop offset="0.033" stop-color="#0065ff"/><stop offset="0.067" stop-color="#0054ff"/><stop offset="0.100" stop-color="#003dff"/><stop offset="0.133" stop-color="#0027ff"/><stop offset="0.167" stop-color="#000bff"/><stop offset="0.200" stop-color="#1000ff"/><stop offset="0.233" stop-color="#2400ff"/><stop offset="0.267" stop-color="#4d00ff"/><stop offset="0.300" stop-color="#6000ff"/><stop offset="0.333" stop-color="#7100ff"/><stop offset="0.367" stop-color="#8100ff"/><stop offset="0.400" stop-color="#8f00ff"/><stop offset="0.433" stop-color="#9e00ff"/><stop offset="0.467" stop-color="#ac00ff"/><stop offset="0.500" stop-color="#ba00ff"/><stop offset="0.533" stop-color="#c600ff"/><stop offset="0.567" stop-color="#d200ff"/><stop offset="0.600" stop-color="#dd00ff"/><stop offset="0.633" stop-color="#e700ff"/><stop offset="0.667" stop-color="#f100ff"/><stop offset="0.700" stop-color="#fa00fe"/><stop offset="0.733" stop-color="#ff00fa"/><stop offset="0.767" stop-color="#ff00f3"/><stop offset="0.800" stop-color="#ff00ec"/><stop offset="0.833" stop-color="#ff00e5"/><stop offset="0.867" stop-color="#fe00df"/><stop offset="0.900" stop-color="#ff00d9"/><stop offset="0.933" stop-color="#ff00d3"/><stop offset="0.967" stop-color="#ff00ce"/><stop offset="1.000" stop-color="#ff00c9"/></linearGradient>
</defs>
<g clip-path="url(#loc)"><rect x="208" y="368" width="120" height="2.3" fill="url(#g0)"/><rect x="208" y="370" width="120" height="2.3" fill="url(#g1)"/><rect x="208" y="372" width="120" height="2.3" fill="url(#g2)"/><rect x="208" y="374" width="120" height="2.3" fill="url(#g3)"/><rect x="208" y="376" width="120" height="2.3" fill="url(#g4)"/><rect x="208" y="378" width="120" height="2.3" fill="url(#g5)"/><rect x="208" y="380" width="120" height="2.3" fill="url(#g6)"/><rect x="208" y="382" width="120" height="2.3" fill="url(#g7)"/><rect x="208" y="384" width="120" height="2.3" fill="url(#g8)"/><rect x="208" y="386" width="120" height="2.3" fill="url(#g9)"/><rect x="208" y="388" width="120" height="2.3" fill="url(#g10)"/><rect x="208" y="390" width="120" height="2.3" fill="url(#g11)"/><rect x="208" y="392" width="120" height="2.3" fill="url(#g12)"/><rect x="208" y="394" width="120" height="2.3" fill="url(#g13)"/><rect x="208" y="396" width="120" height="2.3" fill="url(#g14)"/><rect x="208" y="398" width="120" height="2.3" fill="url(#g15)"/><rect x="208" y="400" width="120" height="2.3" fill="url(#g16)"/><rect x="208" y="402" width="120" height="2.3" fill="url(#g17)"/><rect x="208" y="404" width="120" height="2.3" fill="url(#g18)"/><rect x="208" y="406" width="120" height="2.3" fill="url(#g19)"/><rect x="208" y="408" width="120" height="2.3" fill="url(#g20)"/><rect x="208" y="410" width="120" height="2.3" fill="url(#g21)"/><rect x="208" y="412" width="120" height="2.3" fill="url(#g22)"/><rect x="208" y="414" width="120" height="2.3" fill="url(#g23)"/><rect x="208" y="416" width="120" height="2.3" fill="url(#g24)"/><rect x="208" y="418" width="120" height="2.3" fill="url(#g25)"/><rect x="208" y="420" width="120" height="2.3" fill="url(#g26)"/><rect x="208" y="422" width="120" height="2.3" fill="url(#g27)"/><rect x="208" y="424" width="120" height="2.3" fill="url(#g28)"/><rect x="208" y="426" width="120" height="2.3" fill="url(#g29)"/><rect x="208" y="428" width="120" height="2.3" fill="url(#g30)"/><rect x="208" y="430" width="120" height="2.3" fill="url(#g31)"/><rect x="208" y="432" width="120" height="2.3" fill="url(#g32)"/><rect x="208" y="434" width="120" height="2.3" fill="url(#g33)"/><rect x="208" y="436" width="120" height="2.3" fill="url(#g34)"/><rect x="208" y="438" width="120" height="2.3" fill="url(#g35)"/><rect x="208" y="440" width="120" height="2.3" fill="url(#g36)"/><rect x="208" y="442" width="120" height="2.3" fill="url(#g37)"/><rect x="208" y="444" width="120" height="2.3" fill="url(#g38)"/><rect x="208" y="446" width="120" height="2.3" fill="url(#g39)"/><rect x="208" y="448" width="120" height="2.3" fill="url(#g40)"/><rect x="208" y="450" width="120" height="2.3" fill="url(#g41)"/><rect x="208" y="452" width="120" height="2.3" fill="url(#g42)"/><rect x="208" y="454" width="120" height="2.3" fill="url(#g43)"/><rect x="208" y="456" width="120" height="2.3" fill="url(#g44)"/><rect x="208" y="458" width="120" height="2.3" fill="url(#g45)"/><rect x="208" y="460" width="120" height="2.3" fill="url(#g46)"/><rect x="208" y="462" width="120" height="2.3" fill="url(#g47)"/><rect x="208" y="464" width="120" height="2.3" fill="url(#g48)"/><rect x="208" y="466" width="120" height="2.3" fill="url(#g49)"/><rect x="208" y="468" width="120" height="2.3" fill="url(#g50)"/><rect x="208" y="470" width="120" height="2.3" fill="url(#g51)"/><rect x="208" y="472" width="120" height="2.3" fill="url(#g52)"/><rect x="208" y="474" width="120" height="2.3" fill="url(#g53)"/><rect x="208" y="476" width="120" height="2.3" fill="url(#g54)"/><rect x="208" y="478" width="120" height="2.3" fill="url(#g55)"/><rect x="208" y="480" width="120" height="2.3" fill="url(#g56)"/><rect x="208" y="482" width="120" height="2.3" fill="url(#g57)"/><rect x="208" y="484" width="120" height="2.3" fill="url(#g58)"/><rect x="208" y="486" width="120" height="2.3" fill="url(#g59)"/><rect x="208" y="488" width="120" height="2.3" fill="url(#g60)"/><rect x="208" y="490" width="120" height="2.3" fill="url(#g61)"/><rect x="208" y="492" width="120" height="2.3" fill="url(#g62)"/><rect x="208" y="494" width="120" height="2.3" fill="url(#g63)"/><rect x="208" y="496" width="120" height="2.3" fill="url(#g64)"/></g>
<polygon points="236.6,496.6 236.5,496.7 236.4,496.7 236.2,496.6 235.8,496.4 235.1,495.8 233.9,494.7 233.0,494.0 231.9,492.9 230.5,491.4 228.7,488.7 226.5,484.4 223.6,477.5 220.0,467.3 216.4,453.1 212.9,435.5 210.5,416.6 209.8,399.2 211.4,384.9 215.3,375.6 220.9,372.3 227.2,373.5 233.6,376.5 239.6,380.2 245.4,384.3 251.1,388.8 256.7,393.6 262.3,398.6 268.0,403.7 273.6,409.0 279.1,414.2 284.6,419.4 289.9,424.4 295.0,429.2 299.8,433.8 304.2,437.9 308.0,441.5 311.3,444.7 314.1,447.3 316.3,449.4 318.1,451.2 320.7,453.6 322.4,455.3 323.5,456.3 324.2,456.9 324.7,457.4 324.9,457.6" fill="none" stroke="#222" stroke-width="0.8"/>
<line x1="220.9" y1="372.3" x2="221.4" y2="369.9" stroke="#444" stroke-width="0.6"/>
<text x="221.5" y="371.2" font-family="Liberation Sans" font-size="5.3" fill="#3a3aee" text-anchor="middle">520</text>
<line x1="233.6" y1="376.5" x2="235.7" y2="375.2" stroke="#444" stroke-width="0.6"/>
<text x="238.0" y="375.6" font-family="Liberation Sans" font-size="5.3" fill="#3a3aee" text-anchor="middle">530</text>
<line x1="245.4" y1="384.3" x2="247.6" y2="383.2" stroke="#444" stroke-width="0.6"/>
<text x="251.0" y="383.6" font-family="Liberation Sans" font-size="5.3" fill="#3a3aee" text-anchor="middle">540</text>
<line x1="256.7" y1="393.6" x2="259.0" y2="392.7" stroke="#444" stroke-width="0.6"/>
<text x="262.0" y="393.4" font-family="Liberation Sans" font-size="5.3" fill="#3a3aee" text-anchor="middle">550</text>
<line x1="268.0" y1="403.7" x2="270.2" y2="402.6" stroke="#444" stroke-width="0.6"/>
<text x="273.5" y="402.9" font-family="Liberation Sans" font-size="5.3" fill="#3a3aee" text-anchor="middle">560</text>
<line x1="279.1" y1="414.2" x2="281.4" y2="413.2" stroke="#444" stroke-width="0.6"/>
<text x="284.5" y="413.7" font-family="Liberation Sans" font-size="5.3" fill="#3a3aee" text-anchor="middle">570</text>
<line x1="289.9" y1="424.4" x2="292.1" y2="423.1" stroke="#444" stroke-width="0.6"/>
<text x="295.2" y="423.2" font-family="Liberation Sans" font-size="5.3" fill="#3a3aee" text-anchor="middle">580</text>
<line x1="299.8" y1="433.8" x2="301.9" y2="432.4" stroke="#444" stroke-width="0.6"/>
<text x="304.5" y="432.7" font-family="Liberation Sans" font-size="5.3" fill="#3a3aee" text-anchor="middle">590</text>
<line x1="308.0" y1="441.5" x2="310.1" y2="440.2" stroke="#444" stroke-width="0.6"/>
<text x="313.0" y="440.2" font-family="Liberation Sans" font-size="5.3" fill="#3a3aee" text-anchor="middle">600</text>
<line x1="314.1" y1="447.3" x2="312.0" y2="445.9" stroke="#444" stroke-width="0.6"/>
<text x="309.5" y="446.2" font-family="Liberation Sans" font-size="5.3" fill="#3a3aee" text-anchor="middle">610</text>
<line x1="318.1" y1="451.2" x2="316.2" y2="449.5" stroke="#444" stroke-width="0.6"/>
<text x="314.0" y="449.5" font-family="Liberation Sans" font-size="5.3" fill="#3a3aee" text-anchor="middle">620</text>
<line x1="320.7" y1="453.6" x2="319.2" y2="451.6" stroke="#444" stroke-width="0.6"/>
<text x="318.0" y="451.9" font-family="Liberation Sans" font-size="5.3" fill="#3a3aee" text-anchor="middle">630</text>
<line x1="322.4" y1="455.3" x2="321.5" y2="452.9" stroke="#444" stroke-width="0.6"/>
<text x="321.0" y="453.4" font-family="Liberation Sans" font-size="5.3" fill="#3a3aee" text-anchor="middle">640</text>
<line x1="211.4" y1="384.9" x2="208.9" y2="385.2" stroke="#444" stroke-width="0.6"/>
<text x="205.5" y="387.6" font-family="Liberation Sans" font-size="5.3" fill="#3a3aee" text-anchor="middle">510</text>
<line x1="210.5" y1="416.6" x2="208.0" y2="417.2" stroke="#444" stroke-width="0.6"/>
<text x="205.5" y="419.6" font-family="Liberation Sans" font-size="5.3" fill="#3a3aee" text-anchor="middle">500</text>
<line x1="216.4" y1="453.1" x2="214.0" y2="453.9" stroke="#444" stroke-width="0.6"/>
<text x="210.3" y="456.9" font-family="Liberation Sans" font-size="5.3" fill="#3a3aee" text-anchor="middle">490</text>
<line x1="223.6" y1="477.5" x2="221.2" y2="478.2" stroke="#444" stroke-width="0.6"/>
<text x="218.5" y="480.9" font-family="Liberation Sans" font-size="5.3" fill="#3a3aee" text-anchor="middle">480</text>
<line x1="228.7" y1="488.7" x2="226.3" y2="489.3" stroke="#444" stroke-width="0.6"/>
<text x="223.0" y="491.9" font-family="Liberation Sans" font-size="5.3" fill="#3a3aee" text-anchor="middle">470</text>
<line x1="231.9" y1="492.9" x2="229.5" y2="493.7" stroke="#444" stroke-width="0.6"/>
<text x="227.0" y="496.4" font-family="Liberation Sans" font-size="5.3" fill="#3a3aee" text-anchor="middle">460</text>
<line x1="233.9" y1="494.7" x2="231.7" y2="496.0" stroke="#444" stroke-width="0.6"/>
<text x="229.0" y="499.4" font-family="Liberation Sans" font-size="5.3" fill="#3a3aee" text-anchor="middle">450</text>
<text x="209.6" y="484.8" font-family="Liberation Sans" font-weight="bold" font-size="6.7" fill="#000" text-anchor="end">0.1</text>
<text x="209.6" y="469.8" font-family="Liberation Sans" font-weight="bold" font-size="6.7" fill="#000" text-anchor="end">0.2</text>
<text x="209.6" y="454.8" font-family="Liberation Sans" font-weight="bold" font-size="6.7" fill="#000" text-anchor="end">0.3</text>
<text x="209.6" y="439.8" font-family="Liberation Sans" font-weight="bold" font-size="6.7" fill="#000" text-anchor="end">0.4</text>
<text x="209.6" y="424.8" font-family="Liberation Sans" font-weight="bold" font-size="6.7" fill="#000" text-anchor="end">0.5</text>
<text x="209.6" y="409.8" font-family="Liberation Sans" font-weight="bold" font-size="6.7" fill="#000" text-anchor="end">0.6</text>
<text x="209.6" y="394.8" font-family="Liberation Sans" font-weight="bold" font-size="6.7" fill="#000" text-anchor="end">0.7</text>
<text x="209.6" y="379.8" font-family="Liberation Sans" font-weight="bold" font-size="6.7" fill="#000" text-anchor="end">0.8</text>
<text x="209.6" y="364.8" font-family="Liberation Sans" font-weight="bold" font-size="6.7" fill="#000" text-anchor="end">0.9</text>
<text x="213.9" y="505" font-family="Liberation Sans" font-weight="bold" font-size="6.7" fill="#000" text-anchor="middle">0.0</text>
<text x="229.3" y="505" font-family="Liberation Sans" font-weight="bold" font-size="6.7" fill="#000" text-anchor="middle">0.1</text>
<text x="244.8" y="505" font-family="Liberation Sans" font-weight="bold" font-size="6.7" fill="#000" text-anchor="middle">0.2</text>
<text x="260.2" y="505" font-family="Liberation Sans" font-weight="bold" font-size="6.7" fill="#000" text-anchor="middle">0.3</text>
<text x="275.7" y="505" font-family="Liberation Sans" font-weight="bold" font-size="6.7" fill="#000" text-anchor="middle">0.4</text>
<text x="291.1" y="505" font-family="Liberation Sans" font-weight="bold" font-size="6.7" fill="#000" text-anchor="middle">0.5</text>
<text x="306.6" y="505" font-family="Liberation Sans" font-weight="bold" font-size="6.7" fill="#000" text-anchor="middle">0.6</text>
<text x="322.1" y="505" font-family="Liberation Sans" font-weight="bold" font-size="6.7" fill="#000" text-anchor="middle">0.7</text>
<text x="337.5" y="505" font-family="Liberation Sans" font-weight="bold" font-size="6.7" fill="#000" text-anchor="middle">0.8</text>
<text x="272.6" y="510.8" font-family="Liberation Sans" font-weight="bold" font-size="6.7" fill="#000">X</text>
<text x="195.4" y="433" font-family="Liberation Sans" font-weight="bold" font-size="6.7" fill="#000">Y</text>
<circle cx="243.6" cy="451.1" r="1" fill="#000"/><circle cx="246.1" cy="454.3" r="1" fill="#000"/>
<text x="220" y="449.4" font-family="Liberation Sans" font-size="6.1" fill="#000" stroke="#000" stroke-width="0.08">Nitrofoska</text>
<text x="248.6" y="457.5" font-family="Liberation Sans" font-size="5.8" fill="#000" stroke="#000" stroke-width="0.08">BG11</text><path d="M46.6,354.4V354.4M44.4,354.4h4.4M44.4,354.4h4.4" stroke="#999" stroke-width="0.9" fill="none"/>
<path d="M76.4,331.5V358.0M74.2,331.5h4.4M74.2,358.0h4.4" stroke="#999" stroke-width="0.9" fill="none"/>
<path d="M106.2,330.0V355.0M104.0,330.0h4.4M104.0,355.0h4.4" stroke="#999" stroke-width="0.9" fill="none"/>
<path d="M135.9,335.1V363.0M133.7,335.1h4.4M133.7,363.0h4.4" stroke="#999" stroke-width="0.9" fill="none"/>
<path d="M165.7,338.3V358.5M163.5,338.3h4.4M163.5,358.5h4.4" stroke="#999" stroke-width="0.9" fill="none"/>
<path d="M195.5,329.2V351.0M193.3,329.2h4.4M193.3,351.0h4.4" stroke="#999" stroke-width="0.9" fill="none"/>
<path d="M225.3,336.3V356.0M223.1,336.3h4.4M223.1,356.0h4.4" stroke="#999" stroke-width="0.9" fill="none"/>
<path d="M255.0,325.5V347.0M252.8,325.5h4.4M252.8,347.0h4.4" stroke="#999" stroke-width="0.9" fill="none"/>
<path d="M284.8,322.0V338.0M282.6,322.0h4.4M282.6,338.0h4.4" stroke="#999" stroke-width="0.9" fill="none"/>
<path d="M314.6,319.0V343.0M312.4,319.0h4.4M312.4,343.0h4.4" stroke="#999" stroke-width="0.9" fill="none"/>
<path d="M46.6,342.4V366.4M44.4,342.4h4.4M44.4,366.4h4.4" stroke="#f58a8a" stroke-width="0.9" fill="none"/>
<path d="M76.4,335.0V360.0M74.2,335.0h4.4M74.2,360.0h4.4" stroke="#f58a8a" stroke-width="0.9" fill="none"/>
<path d="M106.2,328.3V360.0M104.0,328.3h4.4M104.0,360.0h4.4" stroke="#f58a8a" stroke-width="0.9" fill="none"/>
<path d="M135.9,354.0V369.2M133.7,354.0h4.4M133.7,369.2h4.4" stroke="#f58a8a" stroke-width="0.9" fill="none"/>
<path d="M165.7,341.0V360.7M163.5,341.0h4.4M163.5,360.7h4.4" stroke="#f58a8a" stroke-width="0.9" fill="none"/>
<path d="M195.5,346.5V368.0M193.3,346.5h4.4M193.3,368.0h4.4" stroke="#f58a8a" stroke-width="0.9" fill="none"/>
<path d="M225.3,340.0V357.0M223.1,340.0h4.4M223.1,357.0h4.4" stroke="#f58a8a" stroke-width="0.9" fill="none"/>
<path d="M255.0,334.5V356.9M252.8,334.5h4.4M252.8,356.9h4.4" stroke="#f58a8a" stroke-width="0.9" fill="none"/>
<path d="M284.8,325.0V343.0M282.6,325.0h4.4M282.6,343.0h4.4" stroke="#f58a8a" stroke-width="0.9" fill="none"/>
<path d="M314.6,331.0V348.0M312.4,331.0h4.4M312.4,348.0h4.4" stroke="#f58a8a" stroke-width="0.9" fill="none"/>
<path d="M46.6,347.0V361.9M44.4,347.0h4.4M44.4,361.9h4.4" stroke="#8a8af5" stroke-width="0.9" fill="none"/>
<path d="M76.4,341.0V361.9M74.2,341.0h4.4M74.2,361.9h4.4" stroke="#8a8af5" stroke-width="0.9" fill="none"/>
<path d="M106.2,331.5V356.0M104.0,331.5h4.4M104.0,356.0h4.4" stroke="#8a8af5" stroke-width="0.9" fill="none"/>
<path d="M135.9,349.0V363.5M133.7,349.0h4.4M133.7,363.5h4.4" stroke="#8a8af5" stroke-width="0.9" fill="none"/>
<path d="M165.7,344.0V364.8M163.5,344.0h4.4M163.5,364.8h4.4" stroke="#8a8af5" stroke-width="0.9" fill="none"/>
<path d="M195.5,341.0V357.0M193.3,341.0h4.4M193.3,357.0h4.4" stroke="#8a8af5" stroke-width="0.9" fill="none"/>
<path d="M225.3,352.0V363.5M223.1,352.0h4.4M223.1,363.5h4.4" stroke="#8a8af5" stroke-width="0.9" fill="none"/>
<path d="M255.0,333.0V347.0M252.8,333.0h4.4M252.8,347.0h4.4" stroke="#8a8af5" stroke-width="0.9" fill="none"/>
<path d="M284.8,338.0V349.4M282.6,338.0h4.4M282.6,349.4h4.4" stroke="#8a8af5" stroke-width="0.9" fill="none"/>
<path d="M314.6,337.0V358.0M312.4,337.0h4.4M312.4,358.0h4.4" stroke="#8a8af5" stroke-width="0.9" fill="none"/>
<path d="M46.6,351.5 C48.8,351.2 55.0,350.7 60.0,350.0 C65.0,349.3 71.1,348.9 76.4,347.5 C81.7,346.1 87.0,343.0 92.0,341.5 C97.0,340.0 101.5,338.4 106.2,338.5 C110.9,338.6 115.0,340.2 120.0,342.0 C125.0,343.8 131.0,347.9 136.0,349.3 C141.0,350.7 145.0,350.6 150.0,350.5 C155.0,350.4 161.0,349.9 166.0,348.8 C171.0,347.7 175.2,345.6 180.0,344.0 C184.8,342.4 190.0,339.2 195.0,339.0 C200.0,338.8 205.0,341.4 210.0,342.5 C215.0,343.6 220.0,346.1 225.0,345.9 C230.0,345.6 235.0,342.8 240.0,341.0 C245.0,339.2 250.0,337.4 255.0,335.1 C260.0,332.8 265.0,328.9 270.0,327.0 C275.0,325.1 280.0,324.0 285.0,324.0 C290.0,324.0 295.1,325.4 300.0,327.0 C304.9,328.6 312.2,332.5 314.6,333.6" fill="none" stroke="#111" stroke-width="1.6" stroke-dasharray="4.5 2.8"/>
<rect x="44.4" y="352.2" width="4.4" height="4.4" fill="#000"/>
<rect x="74.2" y="342.5" width="4.4" height="4.4" fill="#000"/>
<rect x="104.0" y="339.8" width="4.4" height="4.4" fill="#000"/>
<rect x="133.7" y="346.8" width="4.4" height="4.4" fill="#000"/>
<rect x="163.5" y="346.2" width="4.4" height="4.4" fill="#000"/>
<rect x="193.3" y="337.8" width="4.4" height="4.4" fill="#000"/>
<rect x="223.1" y="343.8" width="4.4" height="4.4" fill="#000"/>
<rect x="252.8" y="333.8" width="4.4" height="4.4" fill="#000"/>
<rect x="282.6" y="327.8" width="4.4" height="4.4" fill="#000"/>
<rect x="312.4" y="328.8" width="4.4" height="4.4" fill="#000"/>
<rect x="44.4" y="352.2" width="4.4" height="4.4" fill="#f00"/>
<rect x="74.2" y="349.1" width="4.4" height="4.4" fill="#f00"/>
<rect x="104.0" y="342.5" width="4.4" height="4.4" fill="#f00"/>
<rect x="133.7" y="359.5" width="4.4" height="4.4" fill="#f00"/>
<rect x="163.5" y="348.8" width="4.4" height="4.4" fill="#f00"/>
<rect x="193.3" y="355.1" width="4.4" height="4.4" fill="#f00"/>
<rect x="223.1" y="346.7" width="4.4" height="4.4" fill="#f00"/>
<rect x="252.8" y="343.5" width="4.4" height="4.4" fill="#f00"/>
<rect x="282.6" y="332.0" width="4.4" height="4.4" fill="#f00"/>
<rect x="312.4" y="337.1" width="4.4" height="4.4" fill="#f00"/>
<rect x="44.4" y="352.2" width="4.4" height="4.4" fill="#00f"/>
<rect x="74.2" y="349.1" width="4.4" height="4.4" fill="#00f"/>
<rect x="104.0" y="342.5" width="4.4" height="4.4" fill="#00f"/>
<rect x="133.7" y="354.1" width="4.4" height="4.4" fill="#00f"/>
<rect x="163.5" y="352.3" width="4.4" height="4.4" fill="#00f"/>
<rect x="193.3" y="346.8" width="4.4" height="4.4" fill="#00f"/>
<rect x="223.1" y="355.5" width="4.4" height="4.4" fill="#00f"/>
<rect x="252.8" y="337.8" width="4.4" height="4.4" fill="#00f"/>
<rect x="282.6" y="341.6" width="4.4" height="4.4" fill="#00f"/>
<rect x="312.4" y="345.3" width="4.4" height="4.4" fill="#00f"/>
<path d="M46.6,346.8 C48.8,346.8 55.0,347.1 60.0,347.0 C65.0,346.9 71.1,346.9 76.4,346.5 C81.7,346.1 87.0,345.0 92.0,344.5 C97.0,344.0 101.5,343.5 106.2,343.5 C110.9,343.5 115.0,344.2 120.0,344.7 C125.0,345.2 131.0,345.8 136.0,346.3 C141.0,346.9 145.0,347.3 150.0,348.0 C155.0,348.7 161.0,349.3 166.0,350.5 C171.0,351.7 175.2,353.9 180.0,355.0 C184.8,356.1 191.7,357.1 195.0,357.3 C198.3,357.6 197.2,357.6 200.0,356.5 C202.8,355.4 207.8,352.5 212.0,351.0 C216.2,349.5 220.3,348.0 225.0,347.3 C229.7,346.6 235.0,346.9 240.0,346.6 C245.0,346.3 250.3,346.3 255.0,345.4 C259.7,344.5 263.0,343.1 268.0,341.0 C273.0,338.9 279.7,333.8 285.0,333.0 C290.3,332.2 295.1,333.8 300.0,336.0 C304.9,338.2 312.2,344.3 314.6,346.0" fill="none" stroke="#f00" stroke-width="1.3"/>
<path d="M46.6,352.5 C48.8,352.4 55.0,352.2 60.0,352.0 C65.0,351.8 71.1,351.5 76.4,351.1 C81.7,350.7 87.0,350.1 92.0,349.8 C97.0,349.5 101.5,349.2 106.2,349.3 C110.9,349.4 114.4,349.9 120.0,350.4 C125.6,350.8 132.3,351.6 140.0,352.0 C147.7,352.4 156.0,352.6 166.0,352.7 C176.0,352.8 192.3,352.9 200.0,352.7 C207.7,352.5 207.8,352.1 212.0,351.5 C216.2,350.9 220.3,350.1 225.0,348.9 C229.7,347.6 235.0,345.5 240.0,344.0 C245.0,342.5 250.8,340.4 255.0,339.7 C259.2,339.0 260.8,339.3 265.0,340.0 C269.2,340.7 276.7,343.0 280.0,343.8 C283.3,344.6 279.2,343.7 285.0,345.0 C290.8,346.3 309.7,350.5 314.6,351.6" fill="none" stroke="#00f" stroke-width="1.3"/>
<rect x="50.8" y="473.8" width="4.4" height="4.4" fill="#000"/>
<text x="67" y="479.2" font-family="Liberation Sans" font-weight="bold" font-size="9.5">BG11 (each 7 days)</text>
<rect x="50.8" y="485.9" width="4.4" height="4.4" fill="#f00"/>
<text x="67" y="491.3" font-family="Liberation Sans" font-weight="bold" font-size="9.5">Nitrofoska (each 7 days)</text>
<rect x="50.8" y="498.0" width="4.4" height="4.4" fill="#00f"/>
<text x="67" y="503.4" font-family="Liberation Sans" font-weight="bold" font-size="9.5">Nitrofoska (each 14 days)</text>
</svg></body></html>
